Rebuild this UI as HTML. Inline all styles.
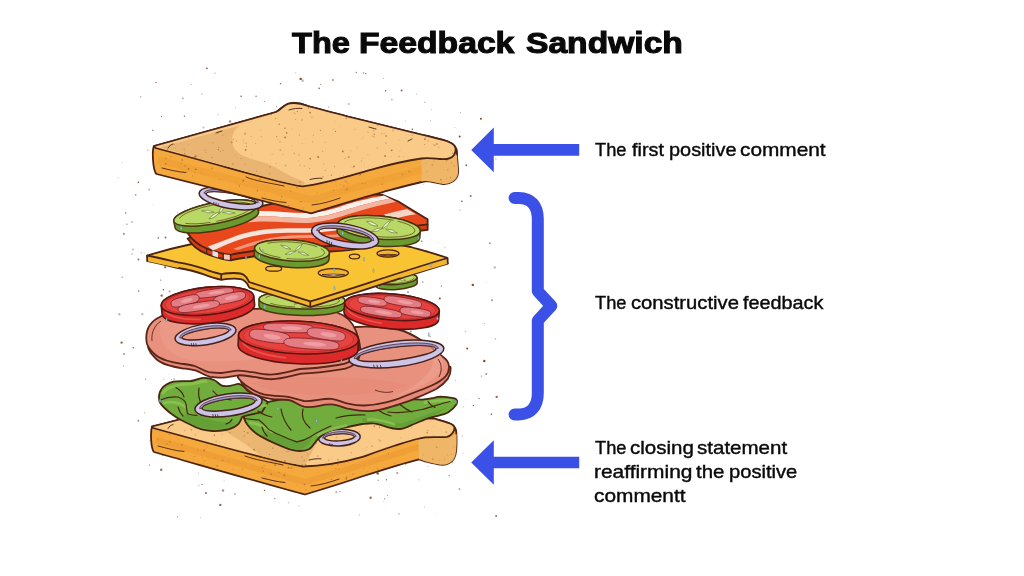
<!DOCTYPE html>
<html><head><meta charset="utf-8"><title>The Feedback Sandwich</title>
<style>
html,body{margin:0;padding:0;background:#fff;}
body{width:1024px;height:576px;overflow:hidden;position:relative;font-family:"Liberation Sans",sans-serif;color:#0a0a0a;}
svg{position:absolute;left:0;top:0;}
.w{position:absolute;white-space:nowrap;transform-origin:0 0;line-height:40px;filter:grayscale(1);}
.ti{font-size:30px;font-weight:bold;-webkit-text-stroke:1.1px #0a0a0a;}
.la{font-size:18.4px;-webkit-text-stroke:0.4px #0a0a0a;}
</style></head><body>
<svg width="1024" height="576" viewBox="0 0 1024 576">
<circle cx="289.5" cy="319.9" r="1.2" fill="#7c4a2c" opacity="1.0"/><circle cx="289.2" cy="452.8" r="0.55" fill="#7c4a2c" opacity="0.6"/><circle cx="422.7" cy="282.1" r="0.8" fill="#7c4a2c" opacity="0.6"/><circle cx="153.7" cy="204.5" r="0.45" fill="#7c4a2c" opacity="0.4"/><circle cx="343.7" cy="246.3" r="0.7" fill="#7c4a2c" opacity="0.6"/><circle cx="354.2" cy="442.3" r="0.45" fill="#7c4a2c" opacity="0.4"/><circle cx="412.9" cy="214.8" r="0.8" fill="#7c4a2c" opacity="0.6"/><circle cx="314.7" cy="356.1" r="0.7" fill="#7c4a2c" opacity="0.4"/><circle cx="369.1" cy="273.8" r="0.6" fill="#7c4a2c" opacity="1.0"/><circle cx="496.1" cy="516.1" r="1.0" fill="#7c4a2c" opacity="0.8"/><circle cx="237.5" cy="171.3" r="0.6" fill="#7c4a2c" opacity="0.4"/><circle cx="144.6" cy="412.8" r="0.7" fill="#7c4a2c" opacity="0.4"/><circle cx="438.9" cy="241.9" r="0.45" fill="#7c4a2c" opacity="0.4"/><circle cx="198.9" cy="485.2" r="0.45" fill="#7c4a2c" opacity="1.0"/><circle cx="260.3" cy="387.0" r="0.7" fill="#7c4a2c" opacity="0.4"/><circle cx="332.6" cy="157.3" r="1.0" fill="#7c4a2c" opacity="0.8"/><circle cx="245.7" cy="208.0" r="0.45" fill="#7c4a2c" opacity="1.0"/><circle cx="405.3" cy="121.1" r="0.55" fill="#7c4a2c" opacity="0.4"/><circle cx="122.2" cy="277.2" r="0.7" fill="#7c4a2c" opacity="0.6"/><circle cx="376.5" cy="152.8" r="0.8" fill="#7c4a2c" opacity="0.6"/><circle cx="491.4" cy="414.3" r="0.7" fill="#7c4a2c" opacity="1.0"/><circle cx="162.2" cy="257.3" r="0.55" fill="#7c4a2c" opacity="0.4"/><circle cx="220.3" cy="504.9" r="1.2" fill="#7c4a2c" opacity="0.8"/><circle cx="495.4" cy="338.9" r="0.8" fill="#7c4a2c" opacity="0.4"/><circle cx="121.6" cy="342.6" r="1.2" fill="#7c4a2c" opacity="0.8"/><circle cx="264.4" cy="101.4" r="0.55" fill="#7c4a2c" opacity="0.6"/><circle cx="123.9" cy="233.9" r="0.8" fill="#7c4a2c" opacity="1.0"/><circle cx="166.2" cy="332.3" r="1.2" fill="#7c4a2c" opacity="0.6"/><circle cx="446.4" cy="150.3" r="0.55" fill="#7c4a2c" opacity="0.8"/><circle cx="462.3" cy="436.0" r="0.55" fill="#7c4a2c" opacity="0.6"/><circle cx="178.1" cy="351.0" r="0.8" fill="#7c4a2c" opacity="0.6"/><circle cx="378.4" cy="242.7" r="0.7" fill="#7c4a2c" opacity="0.4"/><circle cx="277.7" cy="114.7" r="0.45" fill="#7c4a2c" opacity="0.8"/><circle cx="208.4" cy="385.1" r="0.6" fill="#7c4a2c" opacity="1.0"/><circle cx="430.2" cy="336.4" r="0.6" fill="#7c4a2c" opacity="0.6"/><circle cx="299.7" cy="362.1" r="0.8" fill="#7c4a2c" opacity="0.4"/><circle cx="224.2" cy="480.8" r="0.55" fill="#7c4a2c" opacity="0.4"/><circle cx="144.2" cy="253.1" r="0.55" fill="#7c4a2c" opacity="0.4"/><circle cx="135.7" cy="194.9" r="0.8" fill="#7c4a2c" opacity="0.6"/><circle cx="152.9" cy="130.3" r="0.7" fill="#7c4a2c" opacity="0.8"/><circle cx="367.0" cy="379.0" r="0.8" fill="#7c4a2c" opacity="0.6"/><circle cx="341.6" cy="483.6" r="0.7" fill="#7c4a2c" opacity="0.8"/><circle cx="383.7" cy="501.2" r="0.45" fill="#7c4a2c" opacity="0.4"/><circle cx="300.8" cy="396.7" r="0.6" fill="#7c4a2c" opacity="0.6"/><circle cx="397.3" cy="473.1" r="1.0" fill="#7c4a2c" opacity="0.6"/><circle cx="418.6" cy="479.8" r="0.6" fill="#7c4a2c" opacity="0.4"/><circle cx="377.7" cy="473.4" r="1.2" fill="#7c4a2c" opacity="1.0"/><circle cx="123.5" cy="366.0" r="0.7" fill="#7c4a2c" opacity="0.4"/><circle cx="348.8" cy="104.1" r="1.0" fill="#7c4a2c" opacity="0.4"/><circle cx="494.5" cy="463.9" r="0.7" fill="#7c4a2c" opacity="1.0"/><circle cx="285.0" cy="445.3" r="0.45" fill="#7c4a2c" opacity="0.4"/><circle cx="235.6" cy="107.5" r="0.45" fill="#7c4a2c" opacity="0.6"/><circle cx="480.9" cy="118.8" r="1.0" fill="#7c4a2c" opacity="1.0"/><circle cx="215.0" cy="73.1" r="0.6" fill="#7c4a2c" opacity="0.6"/><circle cx="375.0" cy="159.2" r="0.55" fill="#7c4a2c" opacity="0.8"/><circle cx="368.1" cy="266.9" r="0.55" fill="#7c4a2c" opacity="0.8"/><circle cx="271.4" cy="180.8" r="1.0" fill="#7c4a2c" opacity="1.0"/><circle cx="422.6" cy="407.6" r="0.55" fill="#7c4a2c" opacity="0.6"/><circle cx="263.7" cy="330.4" r="0.6" fill="#7c4a2c" opacity="0.6"/><circle cx="169.6" cy="291.4" r="1.2" fill="#7c4a2c" opacity="0.4"/><circle cx="387.6" cy="495.5" r="0.6" fill="#7c4a2c" opacity="0.6"/><circle cx="160.8" cy="280.1" r="0.55" fill="#7c4a2c" opacity="1.0"/><circle cx="263.0" cy="302.0" r="1.0" fill="#7c4a2c" opacity="0.8"/><circle cx="389.5" cy="446.9" r="0.8" fill="#7c4a2c" opacity="1.0"/><circle cx="239.4" cy="440.9" r="0.6" fill="#7c4a2c" opacity="0.4"/><circle cx="375.1" cy="194.5" r="0.6" fill="#7c4a2c" opacity="0.8"/><circle cx="364.1" cy="321.8" r="1.0" fill="#7c4a2c" opacity="0.6"/><circle cx="271.6" cy="153.5" r="1.2" fill="#7c4a2c" opacity="0.8"/><circle cx="208.0" cy="131.4" r="0.45" fill="#7c4a2c" opacity="0.4"/><circle cx="287.2" cy="351.5" r="1.0" fill="#7c4a2c" opacity="0.8"/><circle cx="481.3" cy="376.0" r="0.55" fill="#7c4a2c" opacity="1.0"/><circle cx="215.0" cy="389.4" r="1.2" fill="#7c4a2c" opacity="1.0"/><circle cx="320.7" cy="84.3" r="0.55" fill="#7c4a2c" opacity="0.8"/><circle cx="413.1" cy="310.9" r="0.8" fill="#7c4a2c" opacity="0.6"/><circle cx="267.1" cy="424.4" r="0.55" fill="#7c4a2c" opacity="0.4"/><circle cx="273.6" cy="469.7" r="0.7" fill="#7c4a2c" opacity="0.6"/><circle cx="288.7" cy="156.6" r="0.45" fill="#7c4a2c" opacity="1.0"/><circle cx="326.5" cy="361.7" r="0.8" fill="#7c4a2c" opacity="0.8"/><circle cx="293.7" cy="361.1" r="0.55" fill="#7c4a2c" opacity="0.4"/><circle cx="391.6" cy="436.3" r="1.0" fill="#7c4a2c" opacity="0.4"/><circle cx="198.8" cy="473.0" r="0.45" fill="#7c4a2c" opacity="0.8"/><circle cx="321.5" cy="423.9" r="0.6" fill="#7c4a2c" opacity="0.8"/><circle cx="462.9" cy="453.1" r="0.6" fill="#7c4a2c" opacity="0.4"/><circle cx="132.1" cy="221.9" r="0.7" fill="#7c4a2c" opacity="0.8"/><circle cx="302.7" cy="80.8" r="1.2" fill="#7c4a2c" opacity="0.4"/><circle cx="280.6" cy="83.8" r="0.8" fill="#7c4a2c" opacity="0.8"/><circle cx="378.2" cy="480.2" r="0.7" fill="#7c4a2c" opacity="0.6"/><circle cx="374.9" cy="266.1" r="0.7" fill="#7c4a2c" opacity="0.4"/><circle cx="405.2" cy="265.7" r="0.8" fill="#7c4a2c" opacity="0.8"/><circle cx="433.0" cy="320.7" r="0.55" fill="#7c4a2c" opacity="0.8"/><circle cx="236.1" cy="239.5" r="1.2" fill="#7c4a2c" opacity="0.6"/><circle cx="233.4" cy="131.5" r="0.8" fill="#7c4a2c" opacity="0.8"/><circle cx="335.2" cy="158.4" r="0.8" fill="#7c4a2c" opacity="0.4"/><circle cx="308.7" cy="340.4" r="0.45" fill="#7c4a2c" opacity="0.4"/><circle cx="313.6" cy="248.3" r="1.2" fill="#7c4a2c" opacity="0.4"/><circle cx="304.1" cy="378.9" r="0.45" fill="#7c4a2c" opacity="1.0"/><circle cx="274.8" cy="498.6" r="0.7" fill="#7c4a2c" opacity="0.8"/><circle cx="211.3" cy="289.9" r="0.6" fill="#7c4a2c" opacity="1.0"/><circle cx="459.4" cy="489.1" r="0.8" fill="#7c4a2c" opacity="0.8"/><circle cx="159.2" cy="256.8" r="0.45" fill="#7c4a2c" opacity="0.8"/><circle cx="167.1" cy="418.7" r="0.45" fill="#7c4a2c" opacity="0.4"/><circle cx="191.6" cy="170.3" r="1.0" fill="#7c4a2c" opacity="0.8"/><circle cx="240.1" cy="227.9" r="0.8" fill="#7c4a2c" opacity="1.0"/><circle cx="157.8" cy="396.9" r="0.45" fill="#7c4a2c" opacity="0.8"/><circle cx="390.0" cy="383.6" r="0.7" fill="#7c4a2c" opacity="0.4"/><circle cx="260.4" cy="254.0" r="0.8" fill="#7c4a2c" opacity="0.6"/><circle cx="322.0" cy="456.7" r="0.8" fill="#7c4a2c" opacity="0.6"/><circle cx="318.7" cy="451.1" r="0.8" fill="#7c4a2c" opacity="0.6"/><circle cx="206.2" cy="401.3" r="1.2" fill="#7c4a2c" opacity="0.8"/><circle cx="460.1" cy="210.1" r="0.6" fill="#7c4a2c" opacity="0.6"/><circle cx="200.7" cy="517.3" r="0.45" fill="#7c4a2c" opacity="0.6"/><circle cx="454.9" cy="127.6" r="0.45" fill="#7c4a2c" opacity="0.8"/><circle cx="265.0" cy="263.7" r="0.7" fill="#7c4a2c" opacity="0.6"/><circle cx="194.0" cy="350.6" r="1.2" fill="#7c4a2c" opacity="0.4"/><circle cx="154.4" cy="324.5" r="0.6" fill="#7c4a2c" opacity="0.8"/><circle cx="161.7" cy="295.6" r="1.2" fill="#7c4a2c" opacity="0.8"/><circle cx="308.6" cy="376.6" r="0.55" fill="#7c4a2c" opacity="0.4"/><circle cx="300.7" cy="78.9" r="1.2" fill="#7c4a2c" opacity="1.0"/><circle cx="173.5" cy="151.0" r="0.55" fill="#7c4a2c" opacity="0.6"/><circle cx="436.4" cy="513.6" r="0.45" fill="#7c4a2c" opacity="0.4"/><circle cx="169.0" cy="374.4" r="0.45" fill="#7c4a2c" opacity="0.4"/><circle cx="241.9" cy="278.1" r="0.8" fill="#7c4a2c" opacity="0.8"/><circle cx="281.0" cy="338.4" r="0.45" fill="#7c4a2c" opacity="0.4"/><circle cx="438.0" cy="149.6" r="0.7" fill="#7c4a2c" opacity="0.8"/><circle cx="398.2" cy="250.4" r="0.55" fill="#7c4a2c" opacity="0.6"/><circle cx="153.9" cy="424.6" r="0.6" fill="#7c4a2c" opacity="0.4"/><circle cx="421.8" cy="385.1" r="1.2" fill="#7c4a2c" opacity="1.0"/><circle cx="333.9" cy="153.9" r="0.8" fill="#7c4a2c" opacity="0.8"/><circle cx="423.0" cy="184.2" r="0.45" fill="#7c4a2c" opacity="0.6"/><circle cx="426.7" cy="250.5" r="0.6" fill="#7c4a2c" opacity="0.8"/><circle cx="408.8" cy="412.4" r="0.7" fill="#7c4a2c" opacity="0.6"/><circle cx="391.9" cy="99.7" r="0.6" fill="#7c4a2c" opacity="0.8"/><circle cx="295.7" cy="72.8" r="0.6" fill="#7c4a2c" opacity="0.4"/><circle cx="206.0" cy="493.1" r="1.0" fill="#7c4a2c" opacity="0.8"/><circle cx="246.0" cy="364.9" r="0.8" fill="#7c4a2c" opacity="0.6"/><circle cx="320.0" cy="243.3" r="0.7" fill="#7c4a2c" opacity="0.6"/><circle cx="383.8" cy="410.8" r="0.8" fill="#7c4a2c" opacity="0.4"/><circle cx="161.5" cy="116.6" r="0.55" fill="#7c4a2c" opacity="0.8"/><circle cx="286.1" cy="295.1" r="1.2" fill="#7c4a2c" opacity="0.6"/><circle cx="363.6" cy="72.9" r="0.6" fill="#7c4a2c" opacity="0.8"/><circle cx="222.5" cy="221.4" r="0.8" fill="#7c4a2c" opacity="1.0"/><circle cx="484.5" cy="323.6" r="0.45" fill="#7c4a2c" opacity="1.0"/><circle cx="424.8" cy="102.3" r="0.8" fill="#7c4a2c" opacity="0.4"/><circle cx="264.5" cy="490.4" r="0.7" fill="#7c4a2c" opacity="1.0"/><circle cx="344.1" cy="261.3" r="0.7" fill="#7c4a2c" opacity="1.0"/><circle cx="225.8" cy="247.4" r="0.6" fill="#7c4a2c" opacity="0.8"/><circle cx="319.0" cy="285.5" r="0.6" fill="#7c4a2c" opacity="0.8"/><circle cx="369.5" cy="404.5" r="0.45" fill="#7c4a2c" opacity="0.4"/><circle cx="410.8" cy="331.6" r="1.0" fill="#7c4a2c" opacity="0.6"/><circle cx="272.9" cy="375.9" r="0.45" fill="#7c4a2c" opacity="0.8"/><circle cx="401.6" cy="90.6" r="1.0" fill="#7c4a2c" opacity="0.8"/><circle cx="299.0" cy="505.9" r="0.55" fill="#7c4a2c" opacity="0.4"/><circle cx="316.4" cy="489.8" r="1.0" fill="#7c4a2c" opacity="1.0"/><circle cx="385.7" cy="90.7" r="0.7" fill="#7c4a2c" opacity="1.0"/><circle cx="162.7" cy="455.5" r="0.6" fill="#7c4a2c" opacity="0.6"/><circle cx="165.1" cy="267.3" r="1.0" fill="#7c4a2c" opacity="1.0"/><circle cx="290.7" cy="186.0" r="0.8" fill="#7c4a2c" opacity="1.0"/><circle cx="256.0" cy="402.7" r="1.2" fill="#7c4a2c" opacity="0.6"/><circle cx="479.0" cy="398.4" r="0.55" fill="#7c4a2c" opacity="1.0"/><circle cx="161.2" cy="469.7" r="1.2" fill="#7c4a2c" opacity="0.8"/><circle cx="222.1" cy="342.4" r="1.0" fill="#7c4a2c" opacity="0.6"/><circle cx="357.9" cy="407.0" r="0.55" fill="#7c4a2c" opacity="0.6"/><circle cx="308.3" cy="361.8" r="0.55" fill="#7c4a2c" opacity="0.4"/><circle cx="356.2" cy="72.3" r="0.6" fill="#7c4a2c" opacity="1.0"/><circle cx="223.5" cy="408.1" r="1.0" fill="#7c4a2c" opacity="0.6"/><circle cx="326.7" cy="352.0" r="0.6" fill="#7c4a2c" opacity="1.0"/><circle cx="299.4" cy="162.8" r="0.6" fill="#7c4a2c" opacity="1.0"/><circle cx="400.3" cy="445.3" r="0.45" fill="#7c4a2c" opacity="0.4"/><circle cx="287.5" cy="437.9" r="1.2" fill="#7c4a2c" opacity="0.6"/><circle cx="286.4" cy="404.3" r="0.7" fill="#7c4a2c" opacity="0.6"/><circle cx="257.8" cy="362.1" r="0.8" fill="#7c4a2c" opacity="0.8"/><circle cx="228.2" cy="409.5" r="1.2" fill="#7c4a2c" opacity="0.6"/><circle cx="280.1" cy="234.2" r="0.45" fill="#7c4a2c" opacity="1.0"/><circle cx="331.8" cy="286.2" r="1.0" fill="#7c4a2c" opacity="1.0"/><circle cx="231.3" cy="417.0" r="0.45" fill="#7c4a2c" opacity="0.8"/><circle cx="198.8" cy="365.9" r="0.45" fill="#7c4a2c" opacity="0.8"/><circle cx="305.5" cy="411.9" r="0.6" fill="#7c4a2c" opacity="0.8"/><circle cx="452.2" cy="166.4" r="1.0" fill="#7c4a2c" opacity="0.8"/><circle cx="256.9" cy="120.8" r="1.0" fill="#7c4a2c" opacity="1.0"/><circle cx="333.8" cy="481.4" r="1.0" fill="#7c4a2c" opacity="0.8"/><circle cx="284.0" cy="429.4" r="0.6" fill="#7c4a2c" opacity="1.0"/><circle cx="238.4" cy="247.8" r="1.0" fill="#7c4a2c" opacity="0.6"/><circle cx="149.9" cy="440.8" r="0.45" fill="#7c4a2c" opacity="0.8"/><circle cx="374.6" cy="331.2" r="1.2" fill="#7c4a2c" opacity="0.6"/><circle cx="398.0" cy="233.7" r="0.7" fill="#7c4a2c" opacity="0.6"/><circle cx="435.0" cy="321.3" r="0.55" fill="#7c4a2c" opacity="0.4"/><circle cx="405.6" cy="464.4" r="0.6" fill="#7c4a2c" opacity="0.4"/><circle cx="201.9" cy="94.0" r="0.55" fill="#7c4a2c" opacity="0.8"/><circle cx="484.3" cy="361.0" r="1.2" fill="#7c4a2c" opacity="1.0"/><circle cx="142.3" cy="314.1" r="1.2" fill="#7c4a2c" opacity="0.4"/><circle cx="244.8" cy="191.1" r="0.45" fill="#7c4a2c" opacity="0.8"/><circle cx="150.1" cy="353.4" r="0.55" fill="#7c4a2c" opacity="0.4"/><circle cx="400.7" cy="360.1" r="0.55" fill="#7c4a2c" opacity="0.6"/><circle cx="303.3" cy="476.5" r="0.6" fill="#7c4a2c" opacity="1.0"/><circle cx="267.5" cy="220.0" r="0.6" fill="#7c4a2c" opacity="0.6"/><circle cx="305.1" cy="309.8" r="1.0" fill="#7c4a2c" opacity="0.4"/><circle cx="386.4" cy="479.7" r="0.7" fill="#7c4a2c" opacity="0.8"/><circle cx="441.5" cy="430.7" r="1.2" fill="#7c4a2c" opacity="0.4"/><circle cx="316.5" cy="387.5" r="1.2" fill="#7c4a2c" opacity="0.4"/><circle cx="277.8" cy="257.2" r="0.55" fill="#7c4a2c" opacity="0.6"/><circle cx="398.9" cy="514.0" r="0.7" fill="#7c4a2c" opacity="0.6"/><circle cx="239.6" cy="243.2" r="0.8" fill="#7c4a2c" opacity="0.8"/><circle cx="221.9" cy="466.7" r="0.7" fill="#7c4a2c" opacity="0.8"/><circle cx="395.0" cy="204.6" r="0.55" fill="#7c4a2c" opacity="0.6"/><circle cx="463.7" cy="406.9" r="0.45" fill="#7c4a2c" opacity="1.0"/><circle cx="187.9" cy="165.8" r="0.55" fill="#7c4a2c" opacity="1.0"/><circle cx="343.4" cy="168.8" r="0.55" fill="#7c4a2c" opacity="0.8"/><circle cx="270.5" cy="477.8" r="0.6" fill="#7c4a2c" opacity="1.0"/><circle cx="441.4" cy="286.1" r="0.7" fill="#7c4a2c" opacity="0.8"/><circle cx="368.2" cy="415.3" r="0.45" fill="#7c4a2c" opacity="1.0"/><circle cx="444.9" cy="247.7" r="0.55" fill="#7c4a2c" opacity="0.6"/><circle cx="421.7" cy="241.2" r="0.8" fill="#7c4a2c" opacity="0.8"/><circle cx="416.5" cy="94.1" r="0.55" fill="#7c4a2c" opacity="0.4"/><circle cx="449.3" cy="475.4" r="0.7" fill="#7c4a2c" opacity="0.6"/><circle cx="388.3" cy="340.7" r="0.55" fill="#7c4a2c" opacity="1.0"/><circle cx="177.5" cy="212.8" r="0.6" fill="#7c4a2c" opacity="0.6"/><circle cx="359.4" cy="514.9" r="0.6" fill="#7c4a2c" opacity="0.4"/><circle cx="175.1" cy="414.7" r="0.45" fill="#7c4a2c" opacity="0.6"/><circle cx="429.3" cy="448.8" r="1.2" fill="#7c4a2c" opacity="0.6"/><circle cx="149.2" cy="189.5" r="1.0" fill="#7c4a2c" opacity="0.4"/><circle cx="455.2" cy="380.2" r="0.45" fill="#7c4a2c" opacity="0.8"/><circle cx="376.6" cy="419.6" r="0.7" fill="#7c4a2c" opacity="0.6"/><circle cx="132.1" cy="253.9" r="0.7" fill="#7c4a2c" opacity="0.6"/><circle cx="271.7" cy="318.4" r="0.7" fill="#7c4a2c" opacity="0.4"/><circle cx="254.3" cy="377.2" r="0.45" fill="#7c4a2c" opacity="1.0"/><circle cx="374.2" cy="404.0" r="1.2" fill="#7c4a2c" opacity="0.4"/><circle cx="365.8" cy="73.6" r="0.7" fill="#7c4a2c" opacity="1.0"/><circle cx="208.0" cy="321.9" r="0.7" fill="#7c4a2c" opacity="0.4"/><circle cx="442.4" cy="448.0" r="1.0" fill="#7c4a2c" opacity="0.6"/><circle cx="459.7" cy="136.5" r="1.0" fill="#7c4a2c" opacity="1.0"/><circle cx="473.3" cy="405.4" r="0.6" fill="#7c4a2c" opacity="1.0"/><circle cx="328.6" cy="107.1" r="0.55" fill="#7c4a2c" opacity="0.6"/><circle cx="260.7" cy="117.3" r="0.6" fill="#7c4a2c" opacity="0.8"/><circle cx="331.3" cy="393.7" r="0.6" fill="#7c4a2c" opacity="1.0"/><circle cx="431.4" cy="109.5" r="0.55" fill="#7c4a2c" opacity="0.4"/><circle cx="167.8" cy="351.7" r="0.55" fill="#7c4a2c" opacity="0.6"/><circle cx="191.2" cy="84.4" r="0.7" fill="#7c4a2c" opacity="0.4"/><circle cx="156.1" cy="82.6" r="0.7" fill="#7c4a2c" opacity="1.0"/><circle cx="410.3" cy="221.7" r="1.2" fill="#7c4a2c" opacity="1.0"/><circle cx="174.1" cy="379.1" r="0.7" fill="#7c4a2c" opacity="0.8"/><circle cx="467.2" cy="348.4" r="1.0" fill="#7c4a2c" opacity="1.0"/><circle cx="350.4" cy="211.0" r="1.2" fill="#7c4a2c" opacity="0.6"/><circle cx="368.2" cy="341.9" r="0.45" fill="#7c4a2c" opacity="0.8"/><circle cx="243.5" cy="222.0" r="1.0" fill="#7c4a2c" opacity="1.0"/><circle cx="158.3" cy="237.9" r="0.8" fill="#7c4a2c" opacity="0.8"/><circle cx="416.9" cy="439.3" r="0.8" fill="#7c4a2c" opacity="0.6"/><circle cx="214.2" cy="310.5" r="0.6" fill="#7c4a2c" opacity="0.6"/><circle cx="251.6" cy="293.2" r="0.55" fill="#7c4a2c" opacity="0.6"/><circle cx="492.0" cy="300.2" r="1.0" fill="#7c4a2c" opacity="0.6"/><circle cx="333.0" cy="80.0" r="1.0" fill="#7c4a2c" opacity="0.6"/><circle cx="412.3" cy="129.3" r="0.7" fill="#7c4a2c" opacity="1.0"/><circle cx="382.2" cy="216.1" r="1.2" fill="#7c4a2c" opacity="0.8"/><circle cx="218.9" cy="465.3" r="0.7" fill="#7c4a2c" opacity="0.6"/><circle cx="208.4" cy="324.2" r="0.8" fill="#7c4a2c" opacity="0.4"/><circle cx="330.4" cy="187.0" r="1.0" fill="#7c4a2c" opacity="0.8"/><circle cx="346.0" cy="123.2" r="1.2" fill="#7c4a2c" opacity="0.4"/><circle cx="227.4" cy="471.7" r="0.55" fill="#7c4a2c" opacity="0.8"/><circle cx="432.9" cy="151.5" r="0.8" fill="#7c4a2c" opacity="0.4"/><circle cx="290.2" cy="249.5" r="1.2" fill="#7c4a2c" opacity="0.6"/><circle cx="234.6" cy="370.1" r="1.0" fill="#7c4a2c" opacity="1.0"/><circle cx="351.2" cy="356.1" r="1.2" fill="#7c4a2c" opacity="0.4"/><circle cx="178.1" cy="253.4" r="0.45" fill="#7c4a2c" opacity="0.6"/><circle cx="318.1" cy="121.2" r="0.7" fill="#7c4a2c" opacity="0.6"/><circle cx="245.4" cy="127.2" r="0.55" fill="#7c4a2c" opacity="0.8"/><circle cx="138.3" cy="420.8" r="1.0" fill="#7c4a2c" opacity="0.6"/><circle cx="270.8" cy="291.9" r="0.45" fill="#7c4a2c" opacity="1.0"/><circle cx="248.9" cy="471.5" r="1.0" fill="#7c4a2c" opacity="1.0"/><circle cx="402.9" cy="286.6" r="0.7" fill="#7c4a2c" opacity="1.0"/><circle cx="430.7" cy="120.8" r="0.45" fill="#7c4a2c" opacity="0.8"/><circle cx="317.0" cy="262.5" r="0.45" fill="#7c4a2c" opacity="0.8"/><circle cx="461.9" cy="201.2" r="0.8" fill="#7c4a2c" opacity="1.0"/><circle cx="395.4" cy="336.9" r="1.2" fill="#7c4a2c" opacity="0.8"/><circle cx="452.5" cy="462.7" r="0.55" fill="#7c4a2c" opacity="0.4"/><circle cx="438.0" cy="177.1" r="1.2" fill="#7c4a2c" opacity="1.0"/><circle cx="486.6" cy="282.1" r="0.45" fill="#7c4a2c" opacity="0.6"/><circle cx="324.5" cy="363.6" r="0.55" fill="#7c4a2c" opacity="0.4"/><circle cx="496.7" cy="396.9" r="1.2" fill="#7c4a2c" opacity="0.8"/><circle cx="446.4" cy="257.6" r="1.2" fill="#7c4a2c" opacity="0.6"/><circle cx="202.1" cy="404.0" r="0.8" fill="#7c4a2c" opacity="0.4"/><circle cx="460.4" cy="112.4" r="0.45" fill="#7c4a2c" opacity="1.0"/><circle cx="118.2" cy="177.8" r="0.6" fill="#7c4a2c" opacity="0.4"/><circle cx="241.1" cy="96.2" r="0.7" fill="#7c4a2c" opacity="1.0"/><circle cx="171.5" cy="379.5" r="0.55" fill="#7c4a2c" opacity="0.4"/><circle cx="234.1" cy="272.7" r="0.6" fill="#7c4a2c" opacity="0.8"/><circle cx="240.9" cy="132.5" r="1.2" fill="#7c4a2c" opacity="1.0"/><circle cx="451.0" cy="159.2" r="1.2" fill="#7c4a2c" opacity="0.4"/><circle cx="192.1" cy="445.1" r="0.6" fill="#7c4a2c" opacity="1.0"/><circle cx="124.1" cy="353.9" r="1.0" fill="#7c4a2c" opacity="0.6"/><circle cx="320.0" cy="174.3" r="0.45" fill="#7c4a2c" opacity="0.4"/><circle cx="234.0" cy="436.0" r="0.6" fill="#7c4a2c" opacity="1.0"/><circle cx="388.3" cy="128.7" r="1.0" fill="#7c4a2c" opacity="1.0"/><circle cx="275.3" cy="144.2" r="1.2" fill="#7c4a2c" opacity="0.8"/><circle cx="163.7" cy="379.0" r="0.6" fill="#7c4a2c" opacity="0.6"/><circle cx="390.9" cy="293.6" r="0.6" fill="#7c4a2c" opacity="0.8"/><circle cx="259.2" cy="365.9" r="0.45" fill="#7c4a2c" opacity="0.6"/><circle cx="203.6" cy="127.6" r="1.0" fill="#7c4a2c" opacity="0.4"/><circle cx="293.4" cy="102.3" r="0.8" fill="#7c4a2c" opacity="0.4"/><circle cx="319.2" cy="88.4" r="0.8" fill="#7c4a2c" opacity="0.8"/><circle cx="321.6" cy="258.6" r="0.8" fill="#7c4a2c" opacity="0.4"/><circle cx="186.0" cy="398.4" r="0.45" fill="#7c4a2c" opacity="0.6"/><circle cx="417.5" cy="135.8" r="0.45" fill="#7c4a2c" opacity="1.0"/><circle cx="465.3" cy="331.2" r="0.45" fill="#7c4a2c" opacity="1.0"/><circle cx="140.8" cy="96.8" r="0.6" fill="#7c4a2c" opacity="0.8"/><circle cx="367.5" cy="420.3" r="0.8" fill="#7c4a2c" opacity="0.8"/><circle cx="309.6" cy="448.4" r="1.0" fill="#7c4a2c" opacity="0.6"/><circle cx="343.1" cy="415.1" r="0.45" fill="#7c4a2c" opacity="1.0"/><circle cx="207.2" cy="266.2" r="1.2" fill="#7c4a2c" opacity="0.8"/><circle cx="416.1" cy="424.0" r="0.55" fill="#7c4a2c" opacity="0.8"/><circle cx="303.4" cy="167.6" r="0.8" fill="#7c4a2c" opacity="1.0"/><circle cx="217.0" cy="159.1" r="1.0" fill="#7c4a2c" opacity="0.4"/><circle cx="335.0" cy="460.8" r="0.55" fill="#7c4a2c" opacity="0.8"/><circle cx="282.7" cy="266.8" r="0.6" fill="#7c4a2c" opacity="0.4"/><circle cx="323.9" cy="424.2" r="0.55" fill="#7c4a2c" opacity="0.6"/><circle cx="138.5" cy="259.4" r="1.0" fill="#7c4a2c" opacity="0.8"/><circle cx="428.6" cy="400.3" r="1.2" fill="#7c4a2c" opacity="0.8"/><circle cx="408.0" cy="292.3" r="1.0" fill="#7c4a2c" opacity="0.6"/><circle cx="261.6" cy="179.7" r="0.7" fill="#7c4a2c" opacity="1.0"/><circle cx="141.2" cy="252.8" r="0.6" fill="#7c4a2c" opacity="0.6"/><circle cx="384.7" cy="498.7" r="0.55" fill="#7c4a2c" opacity="1.0"/><circle cx="404.3" cy="338.3" r="0.55" fill="#7c4a2c" opacity="0.6"/><circle cx="400.2" cy="302.8" r="0.45" fill="#7c4a2c" opacity="0.4"/><circle cx="209.2" cy="468.5" r="0.55" fill="#7c4a2c" opacity="0.4"/><circle cx="266.9" cy="202.1" r="0.7" fill="#7c4a2c" opacity="0.4"/><circle cx="486.3" cy="373.9" r="1.0" fill="#7c4a2c" opacity="0.6"/><circle cx="230.1" cy="121.5" r="1.2" fill="#7c4a2c" opacity="0.6"/><circle cx="276.6" cy="106.7" r="0.55" fill="#7c4a2c" opacity="0.8"/><circle cx="235.0" cy="493.9" r="0.8" fill="#7c4a2c" opacity="0.6"/><circle cx="133.0" cy="249.4" r="1.0" fill="#7c4a2c" opacity="0.4"/><circle cx="397.5" cy="323.3" r="1.2" fill="#7c4a2c" opacity="0.6"/><circle cx="293.3" cy="244.8" r="1.2" fill="#7c4a2c" opacity="0.6"/><circle cx="262.4" cy="419.6" r="0.55" fill="#7c4a2c" opacity="1.0"/><circle cx="249.7" cy="150.6" r="0.8" fill="#7c4a2c" opacity="0.6"/><circle cx="300.0" cy="248.1" r="0.8" fill="#7c4a2c" opacity="1.0"/><circle cx="405.9" cy="280.7" r="0.7" fill="#7c4a2c" opacity="0.6"/><circle cx="445.0" cy="160.1" r="0.7" fill="#7c4a2c" opacity="1.0"/><circle cx="145.6" cy="379.1" r="0.6" fill="#7c4a2c" opacity="0.8"/><circle cx="353.3" cy="301.5" r="1.0" fill="#7c4a2c" opacity="0.8"/><circle cx="312.1" cy="323.3" r="1.0" fill="#7c4a2c" opacity="0.6"/><circle cx="219.8" cy="230.5" r="0.55" fill="#7c4a2c" opacity="0.8"/><circle cx="170.0" cy="176.4" r="1.2" fill="#7c4a2c" opacity="0.4"/><circle cx="125.7" cy="212.9" r="0.7" fill="#7c4a2c" opacity="1.0"/><circle cx="149.5" cy="465.1" r="0.6" fill="#7c4a2c" opacity="0.8"/><circle cx="410.1" cy="301.7" r="0.45" fill="#7c4a2c" opacity="0.8"/><circle cx="267.3" cy="175.2" r="0.45" fill="#7c4a2c" opacity="0.6"/><circle cx="175.2" cy="335.9" r="0.45" fill="#7c4a2c" opacity="0.6"/><circle cx="236.4" cy="258.8" r="0.8" fill="#7c4a2c" opacity="0.6"/><circle cx="313.9" cy="314.7" r="0.6" fill="#7c4a2c" opacity="1.0"/><circle cx="370.5" cy="134.2" r="0.55" fill="#7c4a2c" opacity="0.8"/><circle cx="320.8" cy="270.2" r="0.55" fill="#7c4a2c" opacity="1.0"/><circle cx="313.9" cy="228.0" r="0.45" fill="#7c4a2c" opacity="0.8"/><circle cx="258.4" cy="343.1" r="0.55" fill="#7c4a2c" opacity="0.4"/><circle cx="439.5" cy="404.2" r="0.7" fill="#7c4a2c" opacity="0.4"/><circle cx="424.5" cy="507.0" r="0.6" fill="#7c4a2c" opacity="0.4"/><circle cx="466.3" cy="165.3" r="1.0" fill="#7c4a2c" opacity="0.8"/><circle cx="370.6" cy="497.8" r="1.2" fill="#7c4a2c" opacity="0.8"/><circle cx="206.9" cy="352.6" r="0.45" fill="#7c4a2c" opacity="1.0"/><circle cx="163.4" cy="289.8" r="0.7" fill="#7c4a2c" opacity="1.0"/><circle cx="470.7" cy="196.1" r="1.0" fill="#7c4a2c" opacity="0.8"/><circle cx="202.0" cy="484.5" r="0.55" fill="#7c4a2c" opacity="1.0"/><circle cx="409.2" cy="225.8" r="1.0" fill="#7c4a2c" opacity="0.6"/><circle cx="315.2" cy="402.2" r="0.7" fill="#7c4a2c" opacity="0.6"/><circle cx="299.3" cy="183.7" r="1.2" fill="#7c4a2c" opacity="0.8"/><circle cx="383.4" cy="78.4" r="0.7" fill="#7c4a2c" opacity="0.4"/><circle cx="256.1" cy="96.3" r="0.7" fill="#7c4a2c" opacity="0.8"/><circle cx="138.7" cy="291.0" r="0.8" fill="#7c4a2c" opacity="0.8"/><circle cx="295.7" cy="214.5" r="0.6" fill="#7c4a2c" opacity="0.4"/><circle cx="126.9" cy="224.2" r="0.6" fill="#7c4a2c" opacity="0.8"/><circle cx="217.3" cy="368.6" r="0.55" fill="#7c4a2c" opacity="1.0"/><circle cx="263.7" cy="221.6" r="0.6" fill="#7c4a2c" opacity="0.4"/><circle cx="336.4" cy="492.1" r="1.2" fill="#7c4a2c" opacity="0.4"/><circle cx="355.8" cy="347.4" r="0.7" fill="#7c4a2c" opacity="1.0"/><circle cx="288.4" cy="502.8" r="0.7" fill="#7c4a2c" opacity="0.4"/><circle cx="422.7" cy="375.5" r="0.6" fill="#7c4a2c" opacity="0.8"/><circle cx="305.6" cy="280.9" r="0.45" fill="#7c4a2c" opacity="0.6"/><circle cx="347.5" cy="189.4" r="0.6" fill="#7c4a2c" opacity="0.6"/><circle cx="206.9" cy="68.4" r="0.8" fill="#7c4a2c" opacity="1.0"/><circle cx="119.3" cy="314.2" r="1.2" fill="#7c4a2c" opacity="0.4"/><circle cx="354.6" cy="320.3" r="1.2" fill="#7c4a2c" opacity="0.8"/><circle cx="218.1" cy="114.8" r="0.45" fill="#7c4a2c" opacity="0.8"/><circle cx="423.3" cy="161.6" r="0.7" fill="#7c4a2c" opacity="0.6"/><circle cx="353.6" cy="288.8" r="0.8" fill="#7c4a2c" opacity="0.8"/><circle cx="258.0" cy="196.6" r="1.0" fill="#7c4a2c" opacity="1.0"/><circle cx="207.8" cy="180.2" r="0.6" fill="#7c4a2c" opacity="0.6"/><circle cx="465.7" cy="399.9" r="0.45" fill="#7c4a2c" opacity="0.4"/><circle cx="428.0" cy="466.5" r="0.6" fill="#7c4a2c" opacity="0.4"/><circle cx="439.8" cy="298.6" r="1.0" fill="#7c4a2c" opacity="1.0"/><circle cx="133.3" cy="347.7" r="0.7" fill="#7c4a2c" opacity="1.0"/><circle cx="138.3" cy="182.3" r="0.8" fill="#7c4a2c" opacity="1.0"/><circle cx="213.9" cy="353.6" r="0.6" fill="#7c4a2c" opacity="0.8"/><circle cx="187.6" cy="453.2" r="0.55" fill="#7c4a2c" opacity="0.6"/><circle cx="333.1" cy="257.3" r="1.0" fill="#7c4a2c" opacity="0.6"/><circle cx="354.1" cy="442.0" r="1.2" fill="#7c4a2c" opacity="0.6"/><circle cx="165.5" cy="237.6" r="1.0" fill="#7c4a2c" opacity="0.8"/><circle cx="205.6" cy="151.1" r="0.45" fill="#7c4a2c" opacity="1.0"/><circle cx="339.9" cy="491.5" r="0.55" fill="#7c4a2c" opacity="0.8"/><circle cx="378.6" cy="256.7" r="1.0" fill="#7c4a2c" opacity="1.0"/><circle cx="264.5" cy="373.7" r="0.55" fill="#7c4a2c" opacity="0.4"/><circle cx="177.6" cy="516.8" r="0.55" fill="#7c4a2c" opacity="0.8"/><circle cx="253.1" cy="310.3" r="1.2" fill="#7c4a2c" opacity="0.4"/><circle cx="271.3" cy="475.1" r="1.2" fill="#7c4a2c" opacity="1.0"/><circle cx="182.9" cy="98.3" r="0.7" fill="#7c4a2c" opacity="0.8"/><circle cx="202.8" cy="392.8" r="0.7" fill="#7c4a2c" opacity="0.6"/><circle cx="489.8" cy="243.2" r="1.0" fill="#7c4a2c" opacity="0.6"/><circle cx="324.9" cy="428.1" r="0.55" fill="#7c4a2c" opacity="1.0"/><circle cx="184.4" cy="116.2" r="0.6" fill="#7c4a2c" opacity="1.0"/><circle cx="282.0" cy="136.3" r="0.45" fill="#7c4a2c" opacity="0.8"/><circle cx="332.5" cy="132.6" r="1.0" fill="#7c4a2c" opacity="1.0"/><circle cx="221.9" cy="170.4" r="0.7" fill="#7c4a2c" opacity="0.6"/><circle cx="256.7" cy="184.8" r="0.45" fill="#7c4a2c" opacity="0.6"/><circle cx="147.7" cy="150.1" r="0.7" fill="#7c4a2c" opacity="0.6"/><circle cx="495.9" cy="159.0" r="0.7" fill="#7c4a2c" opacity="0.4"/><circle cx="275.1" cy="431.2" r="0.7" fill="#7c4a2c" opacity="0.4"/><circle cx="199.5" cy="345.5" r="1.2" fill="#7c4a2c" opacity="0.8"/><circle cx="223.0" cy="490.5" r="1.2" fill="#7c4a2c" opacity="0.6"/><circle cx="494.8" cy="267.4" r="1.2" fill="#7c4a2c" opacity="0.4"/><circle cx="403.6" cy="207.5" r="0.8" fill="#7c4a2c" opacity="1.0"/><circle cx="122.0" cy="162.6" r="0.45" fill="#7c4a2c" opacity="0.8"/><circle cx="425.0" cy="424.5" r="1.0" fill="#7c4a2c" opacity="1.0"/><circle cx="269.3" cy="429.4" r="1.2" fill="#7c4a2c" opacity="0.4"/><circle cx="472.8" cy="284.9" r="1.2" fill="#7c4a2c" opacity="1.0"/><g stroke="#4a2313" stroke-width="1.8" stroke-linejoin="round">
<path d="M152,426.5 L205,413 L434,418.5 C440,420.3 446,422 450,423.5 C454,425 456,428 456.3,432 C456.6,438 456.8,444 456.2,450 C455.8,456 454,461 449,463.3 C446,464.8 443,465 440.6,464.7 C435,464 430,462.5 425,461.3 C423,460.5 421,459.5 419,459.3 C404,463 382,470 362,476.5 C340,484 320,490 305,494.5 C280,488 200,465 154,452 C150.5,448 150.5,431 152,426.5 Z" fill="#f5a83c"/>
<path d="M418.5,439 L447,437.5 L456.5,434 C456.6,438 456.8,444 456.2,450 C455.8,456 454,461 449,463.3 C446,464.8 443,465 440.6,464.7 C435,464 430,462.5 425,461.3 C423,460.5 421,459.5 419,459.3 Z" fill="#efb668" stroke="none"/>
<path d="M152,426.5 L205,413 L434,418.5 C440,420.3 446,422 450,423.5 C454.5,425 455.5,428 453.5,431.5 C451.5,435 449,436.5 446.9,436.8 C440,437.3 432,437 425,437.3 C422,437.8 419.5,438.4 417.2,439 C409,441 401,443.8 393.75,446 C383,449.5 372,453.5 362.5,456.9 C352,460 341,462.3 331.25,463.9 C321,465.5 310,466.3 303,466.5 C285,464 220,446.5 153,428 Z" fill="#f9ca88"/>
</g>
<path d="M216,426 L245,414 L300,430 L318,440 L312,452 L305,465.5 C292,464 280,461 262,456.5 C250,447 234,436 216,426Z" fill="#e7b06c" opacity="0.8"/>
<path d="M156,440 C190,449 260,470 305,482 C340,472 390,456 418,447" fill="none" stroke="#e8952c" stroke-width="6" opacity="0.45"/>
<g fill="none" stroke="#4a2313" stroke-width="0.9" stroke-linecap="round">
<path d="M158,446 C166,448 176,451 184,451.5"/><path d="M245,456 C255,460 270,462 283,465"/><path d="M262,478 C270,480 278,482 285,482.5"/><path d="M311,486 C321,485 331,482 339,479"/>
<path d="M168,428.5 C169,426.5 171,425 173,424.5"/><path d="M309,460 C313,459 317,458.5 321,458.8"/>
</g>
<clipPath id="cpb"><path d="M152,426.5 L205,413 L434,418.5 C440,420.3 446,422 450,423.5 C454,425 456,428 456.3,432 C456.6,438 456.8,444 456.2,450 C455.8,456 454,461 449,463.3 C446,464.8 443,465 440.6,464.7 C435,464 430,462.5 425,461.3 C423,460.5 421,459.5 419,459.3 C404,463 382,470 362,476.5 C340,484 320,490 305,494.5 C280,488 200,465 154,452 C150.5,448 150.5,431 152,426.5 Z"/></clipPath><g clip-path="url(#cpb)" fill="#a8642a"><circle cx="292.6" cy="443.4" r="0.5" opacity="0.45"/><circle cx="416.9" cy="412.5" r="0.9" opacity="0.8"/><circle cx="426.7" cy="418.8" r="0.9" opacity="0.3"/><circle cx="374.3" cy="426.2" r="0.7" opacity="0.8"/><circle cx="198.4" cy="432.0" r="0.4" opacity="0.45"/><circle cx="305.9" cy="489.6" r="0.9" opacity="0.3"/><circle cx="388.5" cy="444.2" r="0.4" opacity="0.6"/><circle cx="213.1" cy="430.8" r="0.7" opacity="0.3"/><circle cx="388.0" cy="488.6" r="0.7" opacity="0.6"/><circle cx="255.2" cy="415.6" r="0.4" opacity="0.8"/><circle cx="166.9" cy="443.8" r="0.7" opacity="0.45"/><circle cx="157.2" cy="447.7" r="0.4" opacity="0.3"/><circle cx="187.3" cy="460.6" r="0.5" opacity="0.6"/><circle cx="152.5" cy="419.0" r="0.9" opacity="0.3"/><circle cx="304.2" cy="460.1" r="0.9" opacity="0.45"/><circle cx="279.4" cy="445.4" r="0.4" opacity="0.45"/><circle cx="203.1" cy="463.1" r="0.4" opacity="0.3"/><circle cx="233.2" cy="469.4" r="0.5" opacity="0.6"/><circle cx="377.0" cy="460.3" r="0.4" opacity="0.3"/><circle cx="417.5" cy="445.8" r="0.5" opacity="0.45"/><circle cx="338.2" cy="415.6" r="0.6" opacity="0.3"/><circle cx="417.2" cy="421.2" r="0.9" opacity="0.6"/><circle cx="289.0" cy="445.8" r="0.9" opacity="0.3"/><circle cx="266.7" cy="463.1" r="0.4" opacity="0.8"/><circle cx="184.4" cy="430.6" r="0.6" opacity="0.6"/><circle cx="400.9" cy="437.8" r="0.6" opacity="0.3"/><circle cx="309.4" cy="416.6" r="0.7" opacity="0.8"/><circle cx="303.2" cy="471.6" r="0.5" opacity="0.3"/><circle cx="280.9" cy="431.4" r="0.7" opacity="0.6"/><circle cx="444.4" cy="459.1" r="0.5" opacity="0.6"/><circle cx="202.7" cy="482.8" r="0.6" opacity="0.3"/><circle cx="165.6" cy="493.9" r="0.5" opacity="0.6"/><circle cx="441.5" cy="494.8" r="0.9" opacity="0.45"/><circle cx="153.7" cy="417.1" r="0.5" opacity="0.8"/><circle cx="240.6" cy="413.2" r="0.6" opacity="0.6"/><circle cx="193.3" cy="459.2" r="0.5" opacity="0.3"/><circle cx="380.2" cy="436.9" r="0.4" opacity="0.3"/><circle cx="279.3" cy="424.0" r="0.9" opacity="0.8"/><circle cx="331.2" cy="479.4" r="0.6" opacity="0.8"/><circle cx="257.5" cy="489.5" r="0.6" opacity="0.45"/><circle cx="203.4" cy="464.9" r="0.4" opacity="0.45"/><circle cx="390.3" cy="430.7" r="0.4" opacity="0.45"/><circle cx="204.2" cy="450.4" r="0.9" opacity="0.8"/><circle cx="175.6" cy="458.1" r="0.9" opacity="0.6"/><circle cx="314.9" cy="491.1" r="0.4" opacity="0.8"/><circle cx="317.7" cy="456.0" r="0.9" opacity="0.3"/><circle cx="420.2" cy="460.2" r="0.6" opacity="0.3"/><circle cx="373.3" cy="472.5" r="0.4" opacity="0.3"/><circle cx="365.5" cy="450.1" r="0.7" opacity="0.3"/><circle cx="359.1" cy="414.5" r="0.5" opacity="0.8"/><circle cx="221.2" cy="481.1" r="0.9" opacity="0.8"/><circle cx="419.8" cy="415.0" r="0.9" opacity="0.3"/><circle cx="338.9" cy="469.0" r="0.7" opacity="0.3"/><circle cx="174.9" cy="414.9" r="0.5" opacity="0.3"/><circle cx="170.0" cy="441.8" r="0.7" opacity="0.8"/><circle cx="158.0" cy="477.1" r="0.6" opacity="0.3"/><circle cx="391.1" cy="412.7" r="0.7" opacity="0.45"/><circle cx="450.7" cy="494.9" r="0.5" opacity="0.3"/><circle cx="424.9" cy="468.4" r="0.7" opacity="0.45"/><circle cx="209.2" cy="430.6" r="0.4" opacity="0.3"/><circle cx="187.0" cy="490.8" r="0.4" opacity="0.6"/><circle cx="181.9" cy="414.0" r="0.9" opacity="0.45"/><circle cx="263.8" cy="465.3" r="0.5" opacity="0.3"/><circle cx="229.0" cy="455.5" r="0.5" opacity="0.3"/><circle cx="285.3" cy="491.3" r="0.4" opacity="0.3"/><circle cx="310.0" cy="447.0" r="0.6" opacity="0.8"/><circle cx="412.3" cy="462.8" r="0.5" opacity="0.3"/><circle cx="359.8" cy="423.1" r="0.4" opacity="0.45"/><circle cx="450.5" cy="478.0" r="0.7" opacity="0.3"/><circle cx="420.0" cy="489.3" r="0.4" opacity="0.3"/><circle cx="247.8" cy="432.8" r="0.9" opacity="0.6"/><circle cx="301.4" cy="441.1" r="0.7" opacity="0.8"/><circle cx="214.4" cy="435.2" r="0.7" opacity="0.8"/><circle cx="338.0" cy="459.7" r="0.7" opacity="0.8"/><circle cx="207.4" cy="445.8" r="0.6" opacity="0.3"/><circle cx="202.5" cy="457.7" r="0.5" opacity="0.45"/><circle cx="369.2" cy="467.3" r="0.5" opacity="0.3"/><circle cx="254.1" cy="449.6" r="0.9" opacity="0.8"/><circle cx="215.1" cy="457.5" r="0.6" opacity="0.3"/><circle cx="155.9" cy="458.4" r="0.7" opacity="0.45"/><circle cx="417.0" cy="439.2" r="0.9" opacity="0.3"/><circle cx="292.7" cy="412.3" r="0.9" opacity="0.45"/><circle cx="172.0" cy="412.9" r="0.6" opacity="0.3"/><circle cx="178.2" cy="439.6" r="0.4" opacity="0.8"/><circle cx="349.9" cy="445.2" r="0.9" opacity="0.45"/><circle cx="306.7" cy="442.0" r="0.6" opacity="0.45"/><circle cx="248.7" cy="444.3" r="0.5" opacity="0.45"/><circle cx="325.8" cy="412.8" r="0.4" opacity="0.6"/><circle cx="297.5" cy="484.7" r="0.7" opacity="0.3"/><circle cx="234.0" cy="424.1" r="0.7" opacity="0.8"/><circle cx="359.4" cy="431.5" r="0.6" opacity="0.45"/><circle cx="380.4" cy="441.2" r="0.9" opacity="0.3"/><circle cx="318.0" cy="490.0" r="0.4" opacity="0.45"/><circle cx="315.6" cy="491.9" r="0.4" opacity="0.8"/><circle cx="191.4" cy="429.7" r="0.9" opacity="0.45"/><circle cx="427.9" cy="430.2" r="0.5" opacity="0.8"/><circle cx="153.1" cy="458.6" r="0.4" opacity="0.6"/><circle cx="302.8" cy="417.1" r="0.7" opacity="0.8"/><circle cx="284.7" cy="473.0" r="0.5" opacity="0.3"/><circle cx="432.7" cy="493.0" r="0.4" opacity="0.6"/><circle cx="230.1" cy="432.8" r="0.7" opacity="0.45"/><circle cx="384.4" cy="413.0" r="0.9" opacity="0.6"/><circle cx="356.5" cy="493.9" r="0.5" opacity="0.3"/><circle cx="167.4" cy="483.7" r="0.9" opacity="0.45"/><circle cx="352.4" cy="440.5" r="0.5" opacity="0.6"/><circle cx="241.7" cy="415.0" r="0.7" opacity="0.45"/><circle cx="289.8" cy="493.0" r="0.4" opacity="0.6"/><circle cx="203.3" cy="424.1" r="0.9" opacity="0.45"/><circle cx="346.2" cy="478.8" r="0.9" opacity="0.8"/><circle cx="410.3" cy="478.3" r="0.9" opacity="0.45"/><circle cx="406.0" cy="414.8" r="0.7" opacity="0.45"/><circle cx="237.9" cy="452.5" r="0.5" opacity="0.3"/><circle cx="307.8" cy="453.9" r="0.6" opacity="0.6"/><circle cx="265.1" cy="476.9" r="0.6" opacity="0.3"/><circle cx="457.5" cy="474.0" r="0.9" opacity="0.8"/><circle cx="245.9" cy="483.5" r="0.5" opacity="0.3"/><circle cx="211.0" cy="472.5" r="0.6" opacity="0.6"/><circle cx="241.0" cy="413.0" r="0.7" opacity="0.6"/><circle cx="264.0" cy="465.6" r="0.6" opacity="0.45"/><circle cx="320.3" cy="414.5" r="0.5" opacity="0.3"/><circle cx="164.4" cy="413.6" r="0.7" opacity="0.6"/><circle cx="258.7" cy="476.9" r="0.4" opacity="0.3"/><circle cx="367.4" cy="471.5" r="0.5" opacity="0.3"/><circle cx="224.6" cy="425.0" r="0.9" opacity="0.8"/><circle cx="262.1" cy="467.6" r="0.6" opacity="0.8"/><circle cx="160.5" cy="493.8" r="0.6" opacity="0.6"/><circle cx="290.9" cy="436.2" r="0.9" opacity="0.8"/><circle cx="380.3" cy="420.7" r="0.6" opacity="0.45"/><circle cx="277.1" cy="442.7" r="0.6" opacity="0.3"/><circle cx="456.0" cy="479.8" r="0.9" opacity="0.45"/><circle cx="169.7" cy="421.9" r="0.6" opacity="0.8"/><circle cx="302.3" cy="438.0" r="0.4" opacity="0.8"/><circle cx="229.7" cy="428.4" r="0.9" opacity="0.8"/><circle cx="202.0" cy="414.5" r="0.6" opacity="0.3"/><circle cx="309.8" cy="461.8" r="0.4" opacity="0.45"/><circle cx="285.7" cy="420.6" r="0.9" opacity="0.6"/><circle cx="362.8" cy="486.5" r="0.4" opacity="0.6"/><circle cx="194.4" cy="474.6" r="0.5" opacity="0.45"/><circle cx="244.0" cy="435.9" r="0.7" opacity="0.6"/><circle cx="451.7" cy="454.5" r="0.7" opacity="0.3"/><circle cx="331.8" cy="465.3" r="0.7" opacity="0.3"/><circle cx="175.1" cy="475.3" r="0.6" opacity="0.3"/><circle cx="395.1" cy="425.7" r="0.9" opacity="0.45"/><circle cx="455.6" cy="453.1" r="0.7" opacity="0.8"/><circle cx="439.4" cy="460.5" r="0.4" opacity="0.6"/><circle cx="284.9" cy="461.0" r="0.9" opacity="0.6"/><circle cx="385.6" cy="426.3" r="0.4" opacity="0.6"/><circle cx="307.4" cy="449.1" r="0.9" opacity="0.6"/><circle cx="249.8" cy="426.8" r="0.6" opacity="0.6"/><circle cx="251.9" cy="418.9" r="0.6" opacity="0.6"/><circle cx="430.0" cy="492.7" r="0.6" opacity="0.6"/><circle cx="394.8" cy="463.1" r="0.7" opacity="0.3"/><circle cx="244.1" cy="431.5" r="0.6" opacity="0.8"/><circle cx="289.2" cy="415.5" r="0.5" opacity="0.45"/><circle cx="406.1" cy="486.2" r="0.9" opacity="0.3"/><circle cx="174.6" cy="476.9" r="0.6" opacity="0.3"/><circle cx="298.4" cy="436.4" r="0.4" opacity="0.8"/><circle cx="376.0" cy="425.4" r="0.4" opacity="0.6"/><circle cx="430.1" cy="420.1" r="0.5" opacity="0.6"/><circle cx="343.8" cy="433.8" r="0.5" opacity="0.45"/><circle cx="301.9" cy="457.1" r="0.7" opacity="0.6"/><circle cx="293.7" cy="445.9" r="0.4" opacity="0.6"/><circle cx="232.2" cy="424.7" r="0.5" opacity="0.3"/><circle cx="336.6" cy="444.1" r="0.7" opacity="0.8"/><circle cx="187.7" cy="420.9" r="0.9" opacity="0.8"/><circle cx="271.5" cy="488.0" r="0.6" opacity="0.45"/><circle cx="218.0" cy="479.8" r="0.5" opacity="0.6"/><circle cx="318.3" cy="464.6" r="0.4" opacity="0.3"/><circle cx="150.2" cy="459.4" r="0.6" opacity="0.45"/><circle cx="358.8" cy="457.7" r="0.4" opacity="0.8"/><circle cx="229.0" cy="460.9" r="0.5" opacity="0.6"/><circle cx="169.3" cy="478.8" r="0.6" opacity="0.45"/><circle cx="274.7" cy="482.7" r="0.4" opacity="0.45"/><circle cx="324.3" cy="479.6" r="0.4" opacity="0.45"/><circle cx="337.7" cy="464.7" r="0.7" opacity="0.45"/><circle cx="279.0" cy="472.3" r="0.6" opacity="0.8"/><circle cx="172.8" cy="424.5" r="0.4" opacity="0.45"/><circle cx="193.8" cy="456.6" r="0.4" opacity="0.6"/><circle cx="437.8" cy="420.2" r="0.9" opacity="0.6"/><circle cx="349.4" cy="412.1" r="0.7" opacity="0.45"/><circle cx="310.9" cy="483.0" r="0.6" opacity="0.45"/><circle cx="200.5" cy="440.4" r="0.4" opacity="0.45"/><circle cx="411.5" cy="428.1" r="0.7" opacity="0.3"/><circle cx="373.5" cy="413.7" r="0.4" opacity="0.45"/><circle cx="242.4" cy="484.0" r="0.6" opacity="0.3"/><circle cx="284.3" cy="494.4" r="0.5" opacity="0.45"/><circle cx="178.6" cy="418.8" r="0.6" opacity="0.3"/><circle cx="291.5" cy="467.8" r="0.9" opacity="0.6"/><circle cx="332.4" cy="420.3" r="0.9" opacity="0.6"/><circle cx="386.4" cy="433.6" r="0.4" opacity="0.3"/><circle cx="262.3" cy="418.6" r="0.5" opacity="0.6"/><circle cx="364.8" cy="490.2" r="0.9" opacity="0.45"/><circle cx="204.6" cy="460.7" r="0.7" opacity="0.3"/><circle cx="368.2" cy="441.3" r="0.4" opacity="0.45"/><circle cx="209.6" cy="424.0" r="0.9" opacity="0.8"/><circle cx="314.1" cy="438.7" r="0.9" opacity="0.8"/><circle cx="332.1" cy="430.8" r="0.7" opacity="0.6"/><circle cx="286.3" cy="451.6" r="0.5" opacity="0.45"/><circle cx="288.0" cy="451.5" r="0.7" opacity="0.6"/><circle cx="379.2" cy="440.1" r="0.9" opacity="0.3"/><circle cx="356.4" cy="423.4" r="0.6" opacity="0.3"/><circle cx="447.7" cy="455.1" r="0.6" opacity="0.3"/><circle cx="304.2" cy="449.0" r="0.5" opacity="0.8"/><circle cx="217.1" cy="465.8" r="0.9" opacity="0.6"/><circle cx="258.6" cy="428.7" r="0.4" opacity="0.3"/><circle cx="252.3" cy="487.0" r="0.4" opacity="0.8"/><circle cx="453.6" cy="446.8" r="0.6" opacity="0.3"/><circle cx="379.5" cy="427.3" r="0.7" opacity="0.6"/><circle cx="167.1" cy="416.0" r="0.6" opacity="0.8"/><circle cx="222.2" cy="434.6" r="0.7" opacity="0.3"/><circle cx="214.0" cy="420.8" r="0.4" opacity="0.8"/><circle cx="184.2" cy="462.7" r="0.9" opacity="0.6"/><circle cx="256.1" cy="413.6" r="0.7" opacity="0.45"/><circle cx="277.1" cy="416.2" r="0.6" opacity="0.8"/><circle cx="272.3" cy="436.6" r="0.9" opacity="0.3"/><circle cx="343.2" cy="491.8" r="0.7" opacity="0.6"/><circle cx="351.4" cy="452.7" r="0.6" opacity="0.45"/><circle cx="222.4" cy="492.8" r="0.6" opacity="0.8"/><circle cx="333.4" cy="417.3" r="0.7" opacity="0.8"/><circle cx="354.3" cy="493.2" r="0.5" opacity="0.6"/><circle cx="427.2" cy="432.6" r="0.9" opacity="0.6"/><circle cx="420.3" cy="421.6" r="0.6" opacity="0.3"/><circle cx="280.7" cy="438.0" r="0.7" opacity="0.45"/><circle cx="269.4" cy="454.5" r="0.6" opacity="0.8"/><circle cx="331.3" cy="457.8" r="0.5" opacity="0.3"/><circle cx="173.4" cy="416.9" r="0.7" opacity="0.6"/><circle cx="412.3" cy="487.8" r="0.9" opacity="0.45"/><circle cx="328.2" cy="490.6" r="0.5" opacity="0.6"/><circle cx="433.5" cy="426.1" r="0.4" opacity="0.45"/><circle cx="425.6" cy="413.7" r="0.5" opacity="0.45"/><circle cx="384.1" cy="467.6" r="0.7" opacity="0.45"/><circle cx="444.8" cy="437.8" r="0.4" opacity="0.8"/><circle cx="166.3" cy="478.2" r="0.5" opacity="0.8"/><circle cx="219.7" cy="442.5" r="0.6" opacity="0.3"/><circle cx="150.6" cy="437.6" r="0.9" opacity="0.3"/><circle cx="445.7" cy="420.4" r="0.6" opacity="0.45"/><circle cx="353.1" cy="474.0" r="0.7" opacity="0.6"/><circle cx="290.5" cy="494.0" r="0.7" opacity="0.45"/><circle cx="195.7" cy="482.7" r="0.6" opacity="0.3"/><circle cx="317.1" cy="472.5" r="0.4" opacity="0.3"/><circle cx="340.8" cy="421.0" r="0.6" opacity="0.3"/><circle cx="252.0" cy="421.8" r="0.5" opacity="0.3"/><circle cx="271.2" cy="474.2" r="0.9" opacity="0.6"/><circle cx="377.5" cy="468.8" r="0.9" opacity="0.3"/><circle cx="223.7" cy="426.4" r="0.5" opacity="0.8"/><circle cx="176.5" cy="458.4" r="0.5" opacity="0.8"/><circle cx="250.0" cy="418.9" r="0.6" opacity="0.3"/><circle cx="158.0" cy="413.2" r="0.6" opacity="0.6"/><circle cx="322.2" cy="444.5" r="0.7" opacity="0.3"/><circle cx="422.0" cy="413.5" r="0.9" opacity="0.3"/><circle cx="429.7" cy="476.6" r="0.4" opacity="0.3"/><circle cx="374.9" cy="475.4" r="0.5" opacity="0.3"/><circle cx="352.6" cy="464.4" r="0.5" opacity="0.3"/><circle cx="414.0" cy="418.3" r="0.7" opacity="0.3"/><circle cx="216.1" cy="441.4" r="0.6" opacity="0.6"/><circle cx="366.9" cy="447.1" r="0.6" opacity="0.3"/><circle cx="256.9" cy="420.9" r="0.6" opacity="0.45"/><circle cx="242.6" cy="469.3" r="0.5" opacity="0.8"/><circle cx="197.7" cy="450.2" r="0.6" opacity="0.45"/><circle cx="196.7" cy="472.4" r="0.6" opacity="0.8"/><circle cx="156.3" cy="492.4" r="0.4" opacity="0.8"/><circle cx="386.3" cy="448.0" r="0.9" opacity="0.45"/><circle cx="402.2" cy="455.3" r="0.4" opacity="0.3"/><circle cx="386.6" cy="450.5" r="0.4" opacity="0.3"/><circle cx="388.2" cy="492.6" r="0.6" opacity="0.45"/><circle cx="177.4" cy="493.6" r="0.4" opacity="0.3"/><circle cx="302.4" cy="464.9" r="0.7" opacity="0.8"/><circle cx="316.3" cy="443.1" r="0.7" opacity="0.6"/><circle cx="346.6" cy="477.2" r="0.9" opacity="0.45"/><circle cx="388.3" cy="453.9" r="0.7" opacity="0.45"/><circle cx="195.0" cy="456.2" r="0.7" opacity="0.3"/><circle cx="170.4" cy="471.3" r="0.5" opacity="0.45"/><circle cx="157.7" cy="486.9" r="0.7" opacity="0.45"/><circle cx="195.5" cy="434.8" r="0.9" opacity="0.3"/><circle cx="307.8" cy="447.8" r="0.5" opacity="0.8"/><circle cx="222.6" cy="460.3" r="0.9" opacity="0.45"/><circle cx="315.5" cy="412.7" r="0.9" opacity="0.3"/><circle cx="208.2" cy="459.5" r="0.4" opacity="0.3"/><circle cx="363.8" cy="468.6" r="0.5" opacity="0.45"/><circle cx="431.9" cy="482.3" r="0.6" opacity="0.3"/><circle cx="350.9" cy="485.3" r="0.4" opacity="0.3"/><circle cx="261.0" cy="477.4" r="0.7" opacity="0.45"/><circle cx="225.2" cy="443.6" r="0.6" opacity="0.3"/><circle cx="300.9" cy="449.7" r="0.7" opacity="0.6"/><circle cx="304.6" cy="484.4" r="0.9" opacity="0.6"/><circle cx="372.0" cy="446.1" r="0.9" opacity="0.45"/><circle cx="335.8" cy="468.7" r="0.6" opacity="0.45"/><circle cx="436.6" cy="447.3" r="0.9" opacity="0.45"/><circle cx="433.8" cy="435.1" r="0.4" opacity="0.8"/><circle cx="328.7" cy="460.2" r="0.6" opacity="0.6"/><circle cx="155.1" cy="460.1" r="0.5" opacity="0.8"/><circle cx="351.7" cy="412.5" r="0.5" opacity="0.3"/><circle cx="284.3" cy="475.3" r="0.9" opacity="0.8"/><circle cx="293.2" cy="431.7" r="0.5" opacity="0.8"/><circle cx="259.3" cy="450.7" r="0.5" opacity="0.3"/><circle cx="202.4" cy="476.9" r="0.6" opacity="0.8"/><circle cx="275.1" cy="465.1" r="0.9" opacity="0.8"/><circle cx="339.2" cy="486.1" r="0.7" opacity="0.8"/><circle cx="357.4" cy="491.0" r="0.4" opacity="0.6"/><circle cx="362.8" cy="449.0" r="0.4" opacity="0.3"/><circle cx="302.2" cy="425.9" r="0.5" opacity="0.8"/><circle cx="305.5" cy="464.7" r="0.9" opacity="0.6"/><circle cx="157.8" cy="439.7" r="0.4" opacity="0.8"/><circle cx="336.5" cy="437.5" r="0.9" opacity="0.3"/><circle cx="253.8" cy="415.8" r="0.5" opacity="0.3"/><circle cx="288.5" cy="467.7" r="0.9" opacity="0.8"/><circle cx="272.9" cy="448.2" r="0.9" opacity="0.45"/><circle cx="257.6" cy="435.2" r="0.4" opacity="0.8"/><circle cx="169.3" cy="434.6" r="0.7" opacity="0.45"/><circle cx="264.9" cy="429.5" r="0.7" opacity="0.3"/><circle cx="432.9" cy="459.2" r="0.9" opacity="0.45"/><circle cx="347.2" cy="491.9" r="0.4" opacity="0.6"/><circle cx="337.3" cy="495.9" r="0.9" opacity="0.6"/><circle cx="252.2" cy="417.4" r="0.7" opacity="0.45"/><circle cx="161.0" cy="484.2" r="0.9" opacity="0.3"/><circle cx="248.9" cy="459.8" r="0.4" opacity="0.45"/><circle cx="223.6" cy="447.2" r="0.4" opacity="0.8"/><circle cx="423.3" cy="454.8" r="0.6" opacity="0.3"/><circle cx="410.6" cy="478.6" r="0.7" opacity="0.45"/><circle cx="263.3" cy="471.2" r="0.6" opacity="0.8"/><circle cx="376.5" cy="420.6" r="0.4" opacity="0.45"/><circle cx="429.2" cy="484.1" r="0.9" opacity="0.8"/><circle cx="271.2" cy="461.1" r="0.5" opacity="0.45"/><circle cx="182.0" cy="444.8" r="0.7" opacity="0.8"/><circle cx="325.7" cy="414.7" r="0.9" opacity="0.3"/><circle cx="267.7" cy="424.7" r="0.9" opacity="0.3"/><circle cx="160.3" cy="414.5" r="0.7" opacity="0.8"/><circle cx="220.7" cy="472.2" r="0.4" opacity="0.6"/><circle cx="446.3" cy="432.1" r="0.9" opacity="0.45"/><circle cx="390.8" cy="481.0" r="0.4" opacity="0.6"/></g><g transform="rotate(-3 339.4 437.7)"><path d="M318.59999999999997,437.7 A20.8,8.3 0 1 0 360.2,437.7 A20.8,8.3 0 1 0 318.59999999999997,437.7 Z M324.48,437.28 A14.92,3.60 0 1 0 354.32,437.28 A14.92,3.60 0 1 0 324.48,437.28 Z" fill="#cbc4e7" fill-rule="evenodd" stroke="#46211a" stroke-width="1.5" stroke-linejoin="round"/><path d="M322.59,437.28 A16.81,5.61 0 0 1 356.21,437.28 L354.32,437.28 A14.92,3.60 0 0 0 324.48,437.28 Z" fill="#a29aca" stroke="#46211a" stroke-width="0.7" stroke-linejoin="round"/><path d="M329.0,442.8 l0.3,2.5 M330.5,443.2 l0.3,2.5 M331.9,443.5 l0.3,2.3" stroke="#46211a" stroke-width="0.8" fill="none"/></g><g stroke="#46280f" stroke-width="1.8" stroke-linejoin="round">
<path d="M243.75,415.3 C244.5,411 247,408 250,406 C254,403.5 258,403 262.5,402.8 L300,396 L422,399.6 C426,399.2 430,398.6 434,397.8 C436,397.3 438,396.7 440.6,396.7 C445,396.8 449,397.3 454.7,398.3 C457.5,399 457.8,402.5 456,405 C454,408 451,410.5 448.4,412.3 C444.5,414.5 440,415.3 436,416.25 C432,417.2 428.5,418 425,419.4 C421,421 417.5,422.7 414,424 C410,425.7 406,428 401.6,428.75 C397,429.5 392,428.6 387.5,427.2 C382.5,425.6 378,423.5 373.4,423.3 C369.5,423.1 366,423.6 362.5,424 C357,424.8 352,426 346.9,427.2 C341.5,428.3 336,428.8 331,430.3 C326,432 322,434.7 318.75,438 C315,441.8 313,446.5 309.4,449 C306.5,450.7 303,451 300,451 C297,451 293.5,450.5 290.6,449.7 C285,448 280,445.5 275,443.4 C269.5,441 264.5,438.5 259.4,435.6 C256,433.5 253,431 250,427.8 C247,424.8 244,421 243.75,415.3 Z" fill="#70ad3d"/>
<path d="M159.4,401.3 C158.5,396 159.5,391.5 161.7,388.75 C164.5,385 168.5,383 173.4,381.7 C179,380.4 185,381.5 190.6,381 C195.5,380.4 199,378 203,377.8 C207.5,377.6 211,378.6 214,380 C217.5,381.7 219,384.5 221.9,385.6 C225,386.7 228,386 231,385.6 C234,385.2 236.5,383.7 239,384 C242.5,384.5 245,387.5 246.9,390.3 C252,394 260,397 268,402 L262,412 C255,414 247,415 242,417 C241,420 240,423 237.5,424.7 C234,427.5 230,429.3 225,430 C221,430.8 217,431.3 212.5,431 C208.5,430.8 205,430.3 201.6,429.4 C197.5,428.3 194,426.5 190.6,424.7 C187,423 184,421.6 181,420 C178,418.5 176,417 173.4,415.3 C170.5,413.4 168,411.3 165.6,409 C163,406.6 160.5,404 159.4,401.3 Z" fill="#70ad3d"/>
</g>
<g fill="#629c34" opacity="0.75">
<path d="M187,413 C192,416 196,415.5 200,415.5 C210,420 222,424 236,422 C232,427 224,429.5 213,429.5 C202,429 190,424 181,418.5 Z"/>
<path d="M268.75,429.4 C275,434 284,437 296.9,441.9 C303,441 307,439 312,436 C311,442 307,447 300,449.5 C290,449 277,444 262,435.5 Z"/>
<path d="M362.5,418 C375,416.5 390,421 401,423.5 C413,420 428,414 446,408 C440,413.5 430,416.5 420,420 C412,423.5 406,427 400,427 C390,426.5 380,421 362.5,422.5 Z"/>
</g>
<g fill="none" stroke="#8ec453" stroke-width="2.8" opacity="0.85" stroke-linecap="round">
<path d="M163,393 C167,386.5 178,384.5 190,384 C197,383.5 201,381 206,381.5"/><path d="M164,403 C172,401 180,403 186,407"/>
<path d="M248,412 C252,407.5 258,406 266,405.5"/><path d="M250,423 C258,423.5 266,427 272,432"/>
<path d="M318,435 C325,430.5 336,428 346,425.5"/><path d="M425,402.5 C432,401.5 442,399.5 451,400.5"/><path d="M368,419.5 C378,419 386,421.5 394,424"/>
</g>
<g fill="none" stroke="#46280f" stroke-width="1.2" stroke-linecap="round">
<path d="M161,399.7 C167,397 173,396.5 178,397 C183,399 186,402 186,404.4 C186.5,408 187,411 187.5,413.75 C191,415 194,415.3 197,415.3"/>
<path d="M176,387.5 C180,390 183,393.5 184,397"/><path d="M199,388 C198,394 199,399 201,403"/><path d="M213,391 C217,396 224,399 231,400"/>
<path d="M178,407 C179,411 181,414 183,416"/><path d="M226,424 C229,423 231,421.5 232,419.5"/>
<path d="M243.75,418.5 C249,419.5 254,419.5 259,420 C263,423 266,426.5 268.75,429.4 C274,432.5 279,435 284.4,437 C289,439 293,440.7 296.9,441.9 C302,441 306,439.5 310,437 C316,433 324,429 331,426"/>
<path d="M281,409 C282,416 286,424 291,430"/><path d="M303,409 C301,416 304,423 310,428"/><path d="M258,411 C262,414 267,416 272,417"/><path d="M262,427 C263,431 265,434 267,436"/>
<path d="M336,418 C345,415.5 355,414.5 365,415"/>
<path d="M388,412 C397,413 410,412.5 422,409.5 C432,407 441,403.5 450,401.5"/><path d="M400,404.5 C404,408 408,410.5 412,412"/><path d="M428,401.5 C430,404.5 432,406.5 435,407.5"/><path d="M378,410 C382,413 386,415 391,416"/>
</g>
<g transform="rotate(-8 228.5 405)"><path d="M194.7,405 A33.8,11.2 0 1 0 262.3,405 A33.8,11.2 0 1 0 194.7,405 Z M201.70,404.50 A26.80,5.60 0 1 0 255.30,404.50 A26.80,5.60 0 1 0 201.70,404.50 Z" fill="#cbc4e7" fill-rule="evenodd" stroke="#46211a" stroke-width="1.5" stroke-linejoin="round"/><path d="M199.45,404.50 A29.05,8.00 0 0 1 257.55,404.50 L255.30,404.50 A26.80,5.60 0 0 0 201.70,404.50 Z" fill="#a29aca" stroke="#46211a" stroke-width="0.7" stroke-linejoin="round"/><path d="M211.6,411.9 l0.3,3.0 M214.0,412.4 l0.3,3.0 M216.3,412.8 l0.3,2.8" stroke="#46211a" stroke-width="0.8" fill="none"/></g><g stroke="#5a2418" stroke-width="1.8" stroke-linejoin="round">
<path d="M241.2,382 C244,387 248,391 252.5,393.2 C258,396 264,397.8 270.4,398.8 C276.5,399.7 282.5,399.3 288.4,400 C294,400.8 298.5,405.3 304,406.7 C313,408.6 322,404 331,404.4 C337.5,404.7 343,407.5 349,408.9 C355.5,410.3 362.5,411.3 369.3,411.2 C377,411 384.5,409 391.7,406.7 C399.5,404.3 407,401.8 414.2,398.8 C422,395.5 429.5,392.5 436.6,388.7 C441,386 445,382.5 447.9,378.6 C450,375 451,371 450.5,367 L445.6,366 L238,370 Z" fill="#e58a78"/>
<path d="M237.9,377.5 C240,380.5 243,383.5 245.7,385.3 C251,389 257,392.5 263.7,394.3 C271,396 279,396 286.2,396.6 C292.5,397.3 298,400 304,401 C313,402 322,398.3 331,398.8 C336.5,399.2 341.5,402 346.8,403.3 C352.5,404.6 358.5,405.6 364.8,405.5 C372.5,405.3 380,404 387.2,402.2 C395,400.2 402.5,397.5 409.7,394.3 C417.5,391 425,388.7 432.2,385.3 C437,383 442,380 445.6,376.3 C448,373.5 449.3,370 449,366.2 C448.7,362.5 446.5,359.5 443.4,357.2 C431,347 414,333 398,329.5 C384,327 368,326 355,327 C330,328 290,340 238,366 Z" fill="#e9917f"/>
</g>
<path d="M392,398 C416,390 438,380 443,366 C445,357 436,348 425,343 C435,352 436,364 428,373 C420,383 406,391 392,398Z" fill="#f0a392" opacity="0.6"/>
<path d="M250,383 C270,392 300,396 330,395 C360,396 390,392 410,385 C380,378 300,372 250,383Z" fill="#e1856f" opacity="0.35"/>
<path d="M375,390 C381,392.5 388,393 393,391.5" fill="none" stroke="#5a2418" stroke-width="0.9"/>
<path d="M438,359 C442,364 442,371 439,377" fill="none" stroke="#5a2418" stroke-width="0.9"/>
<g stroke="#5a2418" stroke-width="1.8" stroke-linejoin="round">
<path d="M146.3,338.6 C146,330 150,321.5 160.3,316.7 C175,311 200,309 230,309 C255,309 280,308 300,309.5 C315,310 328,310 337,312.5 C347,316 353,323 356,331 C359,340 360,350 356,356 C352,362 346,364 338,365 C325,367 312,368.5 300,369 C290,371 279,375 268,374.5 C262,374.2 257,372.8 252.5,372.2 C247,371.5 242,370.3 236.9,370.6 C231,371 226,373 221.25,373 C216.5,373 213,373 208.75,372.2 C203.5,371 199,367.5 194.7,366 C190,364.4 185,364.2 180.6,363.6 C175.5,362.8 171,362 166.6,360.5 C162,359 158.5,357.5 155.6,355 C151.5,351.5 148.5,347.5 147,344 C146.5,342 146.3,340.5 146.3,338.6 Z" fill="#e58a78" transform="translate(1.5,4.7)"/>
<path d="M146.3,338.6 C146,330 150,321.5 160.3,316.7 C175,311 200,309 230,309 C255,309 280,308 300,309.5 C315,310 328,310 337,312.5 C347,316 353,323 356,331 C359,340 360,350 356,356 C352,362 346,364 338,365 C325,367 312,368.5 300,369 C290,371 279,375 268,374.5 C262,374.2 257,372.8 252.5,372.2 C247,371.5 242,370.3 236.9,370.6 C231,371 226,373 221.25,373 C216.5,373 213,373 208.75,372.2 C203.5,371 199,367.5 194.7,366 C190,364.4 185,364.2 180.6,363.6 C175.5,362.8 171,362 166.6,360.5 C162,359 158.5,357.5 155.6,355 C151.5,351.5 148.5,347.5 147,344 C146.5,342 146.3,340.5 146.3,338.6 Z" fill="#e9917f"/>
</g>
<path d="M152,341 C151,332 155,325 161,321" fill="none" stroke="#5a2418" stroke-width="0.9"/>
<path d="M160,322 C200,314 250,330 290,352 C270,360 220,364 190,360 C170,356 158,346 160,322Z" fill="#ee9f8d" opacity="0.5"/>
<path d="M236,330 C250,352 300,366 350,358 C356,350 358,340 355,331 C330,345 270,345 236,330Z" fill="#dd806c" opacity="0.4"/>
<g transform="rotate(-9 205.5 334.4)"><path d="M174.7,334.4 A30.8,10.4 0 1 0 236.3,334.4 A30.8,10.4 0 1 0 174.7,334.4 Z M181.70,333.90 A23.80,4.80 0 1 0 229.30,333.90 A23.80,4.80 0 1 0 181.70,333.90 Z" fill="#cbc4e7" fill-rule="evenodd" stroke="#46211a" stroke-width="1.5" stroke-linejoin="round"/><path d="M179.45,333.90 A26.05,7.20 0 0 1 231.55,333.90 L229.30,333.90 A23.80,4.80 0 0 0 181.70,333.90 Z" fill="#a29aca" stroke="#46211a" stroke-width="0.7" stroke-linejoin="round"/><path d="M190.1,340.8 l0.3,3.0 M192.3,341.3 l0.3,3.0 M194.4,341.7 l0.3,2.8" stroke="#46211a" stroke-width="0.8" fill="none"/></g><g transform="rotate(-7 396.4 354)"><path d="M348.59999999999997,354 A47.8,12.8 0 1 0 444.2,354 A47.8,12.8 0 1 0 348.59999999999997,354 Z M356.44,353.44 A39.96,6.53 0 1 0 436.36,353.44 A39.96,6.53 0 1 0 356.44,353.44 Z" fill="#cbc4e7" fill-rule="evenodd" stroke="#46211a" stroke-width="1.5" stroke-linejoin="round"/><path d="M353.92,353.44 A42.48,9.22 0 0 1 438.88,353.44 L436.36,353.44 A39.96,6.53 0 0 0 356.44,353.44 Z" fill="#a29aca" stroke="#46211a" stroke-width="0.7" stroke-linejoin="round"/><path d="M372.5,361.9 l0.3,3.4 M375.8,362.4 l0.3,3.4 M379.2,363.0 l0.3,3.1" stroke="#46211a" stroke-width="0.8" fill="none"/></g><g transform="rotate(1 302 300)"><path d="M259,300 L259,306.5 A43,9 0 0 0 345,306.5 L345,300 A43,9 0 0 0 259,300 Z" fill="#6a9a2f" stroke="#4b3410" stroke-width="1.5"/><ellipse cx="302" cy="300" rx="43" ry="9" fill="#b9d866" stroke="#4b3410" stroke-width="1.5"/><ellipse cx="302" cy="300" rx="37.4" ry="7.2" fill="none" stroke="#5c5a1c" stroke-width="0.8" stroke-dasharray="40 6 25 9 50 4"/><path d="M288.2,297.5 Q294.7,295.3 301.1,297.5 Q294.7,299.6 288.2,297.5Z" fill="#e9f0cc" stroke="#5f7a2c" stroke-width="0.6" transform="rotate(18 294.7 297.5)"/><path d="M302.9,297.3 Q309.3,295.1 315.8,297.3 Q309.3,299.5 302.9,297.3Z" fill="#e9f0cc" stroke="#5f7a2c" stroke-width="0.6" transform="rotate(-48 309.3 297.3)"/><path d="M293.8,302.0 Q300.3,299.8 306.7,302.0 Q300.3,304.1 293.8,302.0Z" fill="#e9f0cc" stroke="#5f7a2c" stroke-width="0.6" transform="rotate(-22 300.3 302.0)"/><path d="M308.9,302.0 Q315.3,299.8 321.8,302.0 Q315.3,304.1 308.9,302.0Z" fill="#e9f0cc" stroke="#5f7a2c" stroke-width="0.6" transform="rotate(14 315.3 302.0)"/><path d="M265.0,304.9 q-1.6,3.2 0,4.6 q1.6,-1.4 0,-4.6z" fill="#9fd4ee" stroke="#5a7f9a" stroke-width="0.4"/></g><g transform="rotate(-4 396 279)"><path d="M375,279 L375,284 A21,5.5 0 0 0 417,284 L417,279 A21,5.5 0 0 0 375,279 Z" fill="#6a9a2f" stroke="#4b3410" stroke-width="1.5"/><ellipse cx="396" cy="279" rx="21" ry="5.5" fill="#b9d866" stroke="#4b3410" stroke-width="1.5"/><ellipse cx="396" cy="279" rx="18.3" ry="4.4" fill="none" stroke="#5c5a1c" stroke-width="0.8" stroke-dasharray="40 6 25 9 50 4"/><path d="M389.3,277.5 Q392.4,275.4 395.6,277.5 Q392.4,279.5 389.3,277.5Z" fill="#e9f0cc" stroke="#5f7a2c" stroke-width="0.6" transform="rotate(18 392.4 277.5)"/><path d="M396.4,277.4 Q399.6,275.3 402.7,277.4 Q399.6,279.4 396.4,277.4Z" fill="#e9f0cc" stroke="#5f7a2c" stroke-width="0.6" transform="rotate(-48 399.6 277.4)"/><path d="M392.0,280.2 Q395.2,278.1 398.3,280.2 Q395.2,282.3 392.0,280.2Z" fill="#e9f0cc" stroke="#5f7a2c" stroke-width="0.6" transform="rotate(-22 395.2 280.2)"/><path d="M399.4,280.2 Q402.5,278.1 405.7,280.2 Q402.5,282.3 399.4,280.2Z" fill="#e9f0cc" stroke="#5f7a2c" stroke-width="0.6" transform="rotate(14 402.5 280.2)"/><path d="M377.9,282.0 q-1.6,3.2 0,4.6 q1.6,-1.4 0,-4.6z" fill="#9fd4ee" stroke="#5a7f9a" stroke-width="0.4"/></g><g transform="rotate(-6 207.5 301)"><path d="M161.0,301 L161.0,309.5 A46.5,13.7 0 0 0 254.0,309.5 L254.0,301 A46.5,13.7 0 0 0 161.0,301 Z" fill="#db2a29" stroke="#571610" stroke-width="1.6"/><path d="M164.3,305.7 A46.5,13.7 0 0 0 198.2,318.5" fill="none" stroke="#ee5a52" stroke-width="1.8" stroke-linecap="round" opacity="0.8"/><ellipse cx="207.5" cy="301" rx="46.5" ry="13.7" fill="#e43a37" stroke="#571610" stroke-width="1.6"/><ellipse cx="207.5" cy="301" rx="42.8" ry="12.1" fill="#e7423e" stroke="#b0262a" stroke-width="0.6"/><g transform="rotate(-2 214.9 293.6)"><path d="M195.4,293.6 C195.4,290.6 199.7,289.8 214.9,289.8 C230.2,289.8 234.5,290.6 234.5,293.6 C234.5,296.6 230.2,297.4 214.9,297.4 C199.7,297.4 195.4,296.6 195.4,293.6 Z" fill="#e47c84" stroke="#7e1f22" stroke-width="0.8"/><ellipse cx="217.3" cy="293.6" rx="8.2" ry="1.6" fill="#f0a5a9" opacity="0.8"/></g><g transform="rotate(-8 185.2 298.5)"><path d="M170.8,298.5 C170.8,295.0 173.9,294.0 185.2,294.0 C196.4,294.0 199.6,295.0 199.6,298.5 C199.6,302.1 196.4,303.1 185.2,303.1 C173.9,303.1 170.8,302.1 170.8,298.5 Z" fill="#e47c84" stroke="#7e1f22" stroke-width="0.8"/><ellipse cx="186.9" cy="298.5" rx="6.1" ry="1.9" fill="#f0a5a9" opacity="0.8"/></g><g transform="rotate(-6 229.8 300.3)"><path d="M213.5,300.3 C213.5,296.6 217.1,295.5 229.8,295.5 C242.5,295.5 246.1,296.6 246.1,300.3 C246.1,304.1 242.5,305.1 229.8,305.1 C217.1,305.1 213.5,304.1 213.5,300.3 Z" fill="#e47c84" stroke="#7e1f22" stroke-width="0.8"/><ellipse cx="231.8" cy="300.3" rx="6.8" ry="2.0" fill="#f0a5a9" opacity="0.8"/></g><g transform="rotate(-3 198.2 305.7)"><path d="M177.3,305.7 C177.3,302.3 181.9,301.4 198.2,301.4 C214.5,301.4 219.1,302.3 219.1,305.7 C219.1,309.0 214.5,309.9 198.2,309.9 C181.9,309.9 177.3,309.0 177.3,305.7 Z" fill="#e47c84" stroke="#7e1f22" stroke-width="0.8"/><ellipse cx="200.7" cy="305.7" rx="8.8" ry="1.8" fill="#f0a5a9" opacity="0.8"/></g></g><g transform="rotate(4.9 392 307)"><path d="M344.5,307 L344.5,315.8 A47.5,13 0 0 0 439.5,315.8 L439.5,307 A47.5,13 0 0 0 344.5,307 Z" fill="#db2a29" stroke="#571610" stroke-width="1.6"/><path d="M347.8,311.8 A47.5,13 0 0 0 382.5,324.0" fill="none" stroke="#ee5a52" stroke-width="1.8" stroke-linecap="round" opacity="0.8"/><ellipse cx="392" cy="307" rx="47.5" ry="13" fill="#e43a37" stroke="#571610" stroke-width="1.6"/><ellipse cx="392" cy="307" rx="43.7" ry="11.4" fill="#e7423e" stroke="#b0262a" stroke-width="0.6"/><g transform="rotate(3 372.1 303.1)"><path d="M357.3,303.1 C357.3,300.0 360.6,299.1 372.1,299.1 C383.5,299.1 386.8,300.0 386.8,303.1 C386.8,306.2 383.5,307.1 372.1,307.1 C360.6,307.1 357.3,306.2 357.3,303.1 Z" fill="#e47c84" stroke="#7e1f22" stroke-width="0.8"/><ellipse cx="373.8" cy="303.1" rx="6.2" ry="1.7" fill="#f0a5a9" opacity="0.8"/></g><g transform="rotate(5 402.4 300.9)"><path d="M383.4,300.9 C383.4,297.5 387.6,296.6 402.4,296.6 C417.3,296.6 421.4,297.5 421.4,300.9 C421.4,304.2 417.3,305.2 402.4,305.2 C387.6,305.2 383.4,304.2 383.4,300.9 Z" fill="#e47c84" stroke="#7e1f22" stroke-width="0.8"/><ellipse cx="404.7" cy="300.9" rx="8.0" ry="1.8" fill="#f0a5a9" opacity="0.8"/></g><g transform="rotate(4 381.6 313.0)"><path d="M360.7,313.0 C360.7,309.7 365.2,308.8 381.6,308.8 C397.9,308.8 402.4,309.7 402.4,313.0 C402.4,316.2 397.9,317.1 381.6,317.1 C365.2,317.1 360.7,316.2 360.7,313.0 Z" fill="#e47c84" stroke="#7e1f22" stroke-width="0.8"/><ellipse cx="384.1" cy="313.0" rx="8.8" ry="1.7" fill="#f0a5a9" opacity="0.8"/></g><g transform="rotate(3 415.8 310.1)"><path d="M400.1,310.1 C400.1,306.9 403.5,306.0 415.8,306.0 C428.0,306.0 431.4,306.9 431.4,310.1 C431.4,313.4 428.0,314.3 415.8,314.3 C403.5,314.3 400.1,313.4 400.1,310.1 Z" fill="#e47c84" stroke="#7e1f22" stroke-width="0.8"/><ellipse cx="417.6" cy="310.1" rx="6.6" ry="1.7" fill="#f0a5a9" opacity="0.8"/></g></g><g transform="rotate(2.3 298.5 337.5)"><path d="M238.5,337.5 L238.5,347.5 A60,16.3 0 0 0 358.5,347.5 L358.5,337.5 A60,16.3 0 0 0 238.5,337.5 Z" fill="#db2a29" stroke="#571610" stroke-width="1.6"/><path d="M242.7,343.0 A60,16.3 0 0 0 286.5,358.3" fill="none" stroke="#ee5a52" stroke-width="1.8" stroke-linecap="round" opacity="0.8"/><ellipse cx="298.5" cy="337.5" rx="60" ry="16.3" fill="#e43a37" stroke="#571610" stroke-width="1.6"/><ellipse cx="298.5" cy="337.5" rx="55.2" ry="14.3" fill="#e7423e" stroke="#b0262a" stroke-width="0.6"/><g transform="rotate(0 288.3 328.4)"><path d="M263.1,328.4 C263.1,324.8 268.6,323.8 288.3,323.8 C308.0,323.8 313.5,324.8 313.5,328.4 C313.5,331.9 308.0,332.9 288.3,332.9 C268.6,332.9 263.1,331.9 263.1,328.4 Z" fill="#e47c84" stroke="#7e1f22" stroke-width="0.8"/><ellipse cx="291.3" cy="328.4" rx="10.6" ry="1.9" fill="#f0a5a9" opacity="0.8"/></g><g transform="rotate(6 269.7 337.5)"><path d="M249.3,337.5 C249.3,332.9 253.8,331.6 269.7,331.6 C285.6,331.6 290.1,332.9 290.1,337.5 C290.1,342.1 285.6,343.4 269.7,343.4 C253.8,343.4 249.3,342.1 249.3,337.5 Z" fill="#e47c84" stroke="#7e1f22" stroke-width="0.8"/><ellipse cx="272.1" cy="337.5" rx="8.6" ry="2.5" fill="#f0a5a9" opacity="0.8"/></g><g transform="rotate(6 326.1 333.3)"><path d="M306.9,333.3 C306.9,329.1 311.1,327.9 326.1,327.9 C341.1,327.9 345.3,329.1 345.3,333.3 C345.3,337.5 341.1,338.6 326.1,338.6 C311.1,338.6 306.9,337.5 306.9,333.3 Z" fill="#e47c84" stroke="#7e1f22" stroke-width="0.8"/><ellipse cx="328.4" cy="333.3" rx="8.1" ry="2.3" fill="#f0a5a9" opacity="0.8"/></g><g transform="rotate(2 311.7 343.4)"><path d="M284.1,343.4 C284.1,339.3 290.2,338.2 311.7,338.2 C333.2,338.2 339.3,339.3 339.3,343.4 C339.3,347.4 333.2,348.6 311.7,348.6 C290.2,348.6 284.1,347.4 284.1,343.4 Z" fill="#e47c84" stroke="#7e1f22" stroke-width="0.8"/><ellipse cx="315.0" cy="343.4" rx="11.6" ry="2.2" fill="#f0a5a9" opacity="0.8"/></g></g><g stroke="#4a2313" stroke-width="1.8" stroke-linejoin="round">
<path d="M147,255.5 C165,250 180,246.5 192,244 L300,226 L411,247 C425,251 438,254.5 447.5,258 C400,272 345,291 310.3,301.3 L249,282 C248,280 247,277 244,275 C242,273.5 238,273 234,273 C230,273 226,273.5 221.2,274.1 C216,273 210,271 203.5,268.6 C196,266 188,264 178,262.3 C170,260.5 160,258 147,255.5 Z" fill="#f2b62c" transform="translate(0.3,5.7)"/>
<path d="M147,255.5 L178,262.3 L178.3,268 L147.3,261.2 Z" fill="#f2b62c" stroke="none"/>
<path d="M447.5,258 L400,272 L400.3,277.7 L447.8,263.7 Z" fill="#f2b62c" stroke="none"/>
<path d="M221.2,274.1 l0,5.7 M310.3,301.3 l0,5.7 M147,255.5 l0.3,5.7 M447.5,258 l0.3,5.7" fill="none"/>
<path d="M147,255.5 C165,250 180,246.5 192,244 L300,226 L411,247 C425,251 438,254.5 447.5,258 C400,272 345,291 310.3,301.3 L249,282 C248,280 247,277 244,275 C242,273.5 238,273 234,273 C230,273 226,273.5 221.2,274.1 C216,273 210,271 203.5,268.6 C196,266 188,264 178,262.3 C170,260.5 160,258 147,255.5 Z" fill="#f9c434"/>
</g>
<g stroke="#4a2313" stroke-width="1.3">
<ellipse cx="354.5" cy="256.5" rx="5.2" ry="2.4" fill="#f9c434"/><ellipse cx="388" cy="253.5" rx="11" ry="3.6" fill="#f2b62c"/><ellipse cx="333.3" cy="273" rx="15" ry="4.3" fill="#f2b62c"/><ellipse cx="273.7" cy="268.7" rx="8" ry="2.5" fill="#f9c434"/>
</g>
<path d="M322,274.6 Q333.3,273.5 344.6,274.6 Q333.3,277.6 322,274.6Z" fill="#f3ece6" stroke="#4a2313" stroke-width="0.8"/>
<path d="M379.5,254.8 Q388,253.8 396.5,254.8 Q388,257.3 379.5,254.8Z" fill="#a9765f" stroke="#4a2313" stroke-width="0.8"/>
<g stroke-linejoin="round">
<path d="M187.6,233 C192,240 198,245 206.7,248.5 C212,250.5 218,252.5 223,253.6 C226,254.2 229,254.6 230.8,254.8 C236,253.5 246,252 256,250.5 C268,248.5 280,247.5 292,247 C305,246.5 318,246.5 330,246 C342,245.5 352,245 362,242.5 C378,238 394,232.5 408.5,227 C415,226 422,225 427.6,224.4 L427.6,219.3 C418,213.5 408,207.5 398.4,201.5 C393,199 388,197 383,195 L330,190 L258,207 C240,213 215,223 187.6,233 Z" fill="#d93d14" stroke="#4a2313" stroke-width="1.8" transform="translate(0,5.5)"/>
<path d="M187.6,233 C192,240 198,245 206.7,248.5 C212,250.5 218,252.5 223,253.6 C226,254.2 229,254.6 230.8,254.8 C236,253.5 246,252 256,250.5 C268,248.5 280,247.5 292,247 C305,246.5 318,246.5 330,246 C342,245.5 352,245 362,242.5 C378,238 394,232.5 408.5,227 C415,226 422,225 427.6,224.4 L427.6,219.3 C418,213.5 408,207.5 398.4,201.5 C393,199 388,197 383,195 L330,190 L258,207 C240,213 215,223 187.6,233 Z" fill="#e8481b" stroke="#4a2313" stroke-width="1.8"/>
<path d="M206.7,248.5 l0,5.5 M230.8,254.8 l0,5.5 M223,253.6 l0,5.5" stroke="#4a2313" stroke-width="1.2"/>
<path d="M212.5,250.8 l5.5,1.8 l0,5 l-5.5,-1.8z" fill="#dfe3ea"/>
<path d="M224,254.2 l5.8,0.8 l0,5 l-5.8,-0.8z" fill="#f3c9bb"/>
<path d="M208,246.5 C216,243.5 224,240.5 232,237.5 C241,234 251,231.5 261,230 C278,227.5 296,228.5 313,228 C330,227.5 350,224.5 366,220.5 L367,224.5 C351,228.5 331,232 313,232.5 C296,233 278,232 262,234.5 C252,236 242,238.5 233,242 C226,244.7 219,248 213,250.6 Z" fill="#f6e3da"/>
<path d="M233,249 C248,243 268,237 290,235.5 C305,234.5 325,236 345,233.5 L345,236 C325,239 305,237.5 290,238.5 C270,240 250,246 238,250 Z" fill="#f19f86" opacity="0.9"/>
<path d="M252,211.5 C268,209.5 290,213.5 307,213 C320,212.5 332,209.5 342,206 C352,202.5 368,198.5 384,195.6 L390,198.5 C372,202 355,207 344,210.5 C333,214 320,217.5 307,218 C290,218.5 268,214.5 250,217 Z" fill="#fbf1ec"/>
<path d="M250,217 C268,214.5 290,218.5 307,218 C320,217.5 333,214 344,210.5 C355,207 372,202 390,198.5 L396,201.7 C376,206 358,211 346,215 C334,219 320,222.5 307,223 C290,223.5 270,220 248,222.5 Z" fill="#f4b5a0"/>
<path d="M384,214.5 C392,212.5 400,210.5 407,209 L416,214.3 C407,215.5 398,218 390,220 Z" fill="#f6d5c8"/>
</g>
<g transform="rotate(-11 215.5 213)"><path d="M173.0,213 L173.0,220 A42.5,10.5 0 0 0 258.0,220 L258.0,213 A42.5,10.5 0 0 0 173.0,213 Z" fill="#6a9a2f" stroke="#4b3410" stroke-width="1.5"/><ellipse cx="215.5" cy="213" rx="42.5" ry="10.5" fill="#b9d866" stroke="#4b3410" stroke-width="1.5"/><ellipse cx="215.5" cy="213" rx="37.0" ry="8.4" fill="none" stroke="#5c5a1c" stroke-width="0.8" stroke-dasharray="40 6 25 9 50 4"/><path d="M201.9,210.1 Q208.3,207.5 214.7,210.1 Q208.3,212.6 201.9,210.1Z" fill="#e9f0cc" stroke="#5f7a2c" stroke-width="0.6" transform="rotate(18 208.3 210.1)"/><path d="M216.3,209.8 Q222.7,207.3 229.1,209.8 Q222.7,212.4 216.3,209.8Z" fill="#e9f0cc" stroke="#5f7a2c" stroke-width="0.6" transform="rotate(-48 222.7 209.8)"/><path d="M207.4,215.3 Q213.8,212.8 220.2,215.3 Q213.8,217.8 207.4,215.3Z" fill="#e9f0cc" stroke="#5f7a2c" stroke-width="0.6" transform="rotate(-22 213.8 215.3)"/><path d="M222.3,215.3 Q228.7,212.8 235.1,215.3 Q228.7,217.8 222.3,215.3Z" fill="#e9f0cc" stroke="#5f7a2c" stroke-width="0.6" transform="rotate(14 228.7 215.3)"/><path d="M178.9,218.8 q-1.6,3.2 0,4.6 q1.6,-1.4 0,-4.6z" fill="#9fd4ee" stroke="#5a7f9a" stroke-width="0.4"/></g><g transform="rotate(4 292 250.5)"><path d="M254.5,250.5 L254.5,257.0 A37.5,10.5 0 0 0 329.5,257.0 L329.5,250.5 A37.5,10.5 0 0 0 254.5,250.5 Z" fill="#6a9a2f" stroke="#4b3410" stroke-width="1.5"/><ellipse cx="292" cy="250.5" rx="37.5" ry="10.5" fill="#b9d866" stroke="#4b3410" stroke-width="1.5"/><ellipse cx="292" cy="250.5" rx="32.6" ry="8.4" fill="none" stroke="#5c5a1c" stroke-width="0.8" stroke-dasharray="40 6 25 9 50 4"/><path d="M280.0,247.6 Q285.6,245.0 291.2,247.6 Q285.6,250.1 280.0,247.6Z" fill="#e9f0cc" stroke="#5f7a2c" stroke-width="0.6" transform="rotate(18 285.6 247.6)"/><path d="M292.8,247.3 Q298.4,244.8 304.0,247.3 Q298.4,249.9 292.8,247.3Z" fill="#e9f0cc" stroke="#5f7a2c" stroke-width="0.6" transform="rotate(-48 298.4 247.3)"/><path d="M284.9,252.8 Q290.5,250.3 296.1,252.8 Q290.5,255.3 284.9,252.8Z" fill="#e9f0cc" stroke="#5f7a2c" stroke-width="0.6" transform="rotate(-22 290.5 252.8)"/><path d="M298.0,252.8 Q303.6,250.3 309.2,252.8 Q303.6,255.3 298.0,252.8Z" fill="#e9f0cc" stroke="#5f7a2c" stroke-width="0.6" transform="rotate(14 303.6 252.8)"/><path d="M259.8,256.3 q-1.6,3.2 0,4.6 q1.6,-1.4 0,-4.6z" fill="#9fd4ee" stroke="#5a7f9a" stroke-width="0.4"/></g><g transform="rotate(5 379 227.5)"><path d="M337.5,227.5 L337.5,234.5 A41.5,11.5 0 0 0 420.5,234.5 L420.5,227.5 A41.5,11.5 0 0 0 337.5,227.5 Z" fill="#6a9a2f" stroke="#4b3410" stroke-width="1.5"/><ellipse cx="379" cy="227.5" rx="41.5" ry="11.5" fill="#b9d866" stroke="#4b3410" stroke-width="1.5"/><ellipse cx="379" cy="227.5" rx="36.1" ry="9.2" fill="none" stroke="#5c5a1c" stroke-width="0.8" stroke-dasharray="40 6 25 9 50 4"/><path d="M365.7,224.3 Q371.9,221.5 378.2,224.3 Q371.9,227.0 365.7,224.3Z" fill="#e9f0cc" stroke="#5f7a2c" stroke-width="0.6" transform="rotate(18 371.9 224.3)"/><path d="M379.8,224.1 Q386.1,221.3 392.3,224.1 Q386.1,226.8 379.8,224.1Z" fill="#e9f0cc" stroke="#5f7a2c" stroke-width="0.6" transform="rotate(-48 386.1 224.1)"/><path d="M371.1,230.0 Q377.3,227.3 383.6,230.0 Q377.3,232.8 371.1,230.0Z" fill="#e9f0cc" stroke="#5f7a2c" stroke-width="0.6" transform="rotate(-22 377.3 230.0)"/><path d="M385.6,230.0 Q391.9,227.3 398.1,230.0 Q391.9,232.8 385.6,230.0Z" fill="#e9f0cc" stroke="#5f7a2c" stroke-width="0.6" transform="rotate(14 391.9 230.0)"/><path d="M343.3,233.8 q-1.6,3.2 0,4.6 q1.6,-1.4 0,-4.6z" fill="#9fd4ee" stroke="#5a7f9a" stroke-width="0.4"/></g><g transform="rotate(10 231 198.4)"><path d="M198.7,198.4 A32.3,10.3 0 1 0 263.3,198.4 A32.3,10.3 0 1 0 198.7,198.4 Z M205.70,197.90 A25.30,4.70 0 1 0 256.30,197.90 A25.30,4.70 0 1 0 205.70,197.90 Z" fill="#cbc4e7" fill-rule="evenodd" stroke="#46211a" stroke-width="1.5" stroke-linejoin="round"/><path d="M203.45,197.90 A27.55,7.10 0 0 1 258.55,197.90 L256.30,197.90 A25.30,4.70 0 0 0 205.70,197.90 Z" fill="#a29aca" stroke="#46211a" stroke-width="0.7" stroke-linejoin="round"/><path d="M214.8,204.8 l0.3,3.0 M217.1,205.2 l0.3,3.0 M219.4,205.6 l0.3,2.8" stroke="#46211a" stroke-width="0.8" fill="none"/></g><g transform="rotate(10 345.1 236)"><path d="M311.1,236 A34,11.8 0 1 0 379.1,236 A34,11.8 0 1 0 311.1,236 Z M318.38,235.48 A26.72,5.98 0 1 0 371.82,235.48 A26.72,5.98 0 1 0 318.38,235.48 Z" fill="#cbc4e7" fill-rule="evenodd" stroke="#46211a" stroke-width="1.5" stroke-linejoin="round"/><path d="M316.04,235.48 A29.06,8.47 0 0 1 374.16,235.48 L371.82,235.48 A26.72,5.98 0 0 0 318.38,235.48 Z" fill="#a29aca" stroke="#46211a" stroke-width="0.7" stroke-linejoin="round"/><path d="M328.1,243.3 l0.3,3.1 M330.5,243.8 l0.3,3.1 M332.9,244.3 l0.3,2.9" stroke="#46211a" stroke-width="0.8" fill="none"/></g><g stroke="#4a2313" stroke-width="1.8" stroke-linejoin="round">
<path d="M154,146 C190,136 240,122 276,112 C281,110 283,104.5 290,103.3 C297,102.3 303,104 308,106 C325,110.5 340,114.5 354,118 C378,124 400,129.5 421,134.5 C433,137.5 445,140 450,142.5 C456,145 457.5,149 457,155 C457,161 458.5,168 458,173 C457.5,180 450,184.5 443,184 C437,183.6 431,181 426,181 C410,184.5 396,188.5 382,192.3 C356,199.5 332,207 311,213.3 C280,205 200,185 156.5,174 C152.5,170 152,150 154,146 Z" fill="#f5a83c"/>
<path d="M421.5,158.5 L447,159.5 L457,155 C457,161 458.5,168 458,173 C457.5,180 450,184.5 443,184 C437,183.6 431,181 426,181 C424,181 422,181.5 421.5,181.7 Z" fill="#efb668" stroke="none"/>
<path d="M154,146 C190,136 240,122 276,112 C281,110 283,104.5 290,103.3 C297,102.3 303,104 308,106 C325,110.5 340,114.5 354,118 C378,124 400,129.5 421,134.5 C433,137.5 445,140 450,142.5 C456,145 457,150 454,155 C451,159.5 446,159.5 440,159 C434,158.5 428,157.5 421.5,158.5 C405,161 390,164.5 376,168.3 C350,175.5 325,184 303,186.3 C290,186 240,170.5 155.5,148 Z" fill="#f9ca88"/>
</g>
<path d="M160,147.5 C185,140.5 215,132 240,125.5 C232,131 230,140 234,148 C240,158 258,160 268,164 C280,169 288,176 300,180 C305,182 306,184 303,185.3 C290,185 240,170 160,147.5Z" fill="#e8b16f" opacity="0.85"/>
<path d="M158,160 C200,171 265,188 311,200 C345,191 395,176 422,170" fill="none" stroke="#ea982e" stroke-width="7" opacity="0.35"/>
<g fill="none" stroke="#4a2313" stroke-width="0.9" stroke-linecap="round">
<path d="M289,110 C293,108.5 298,108 302,108.5"/><path d="M216,133 C218,132 220,131.5 222,131"/><path d="M168,148 C169,146 171,144.5 173,144"/><path d="M310,179.5 C314,178.5 318,178 322,178.3"/>
<path d="M369,127 C372,128 374,128.5 376,129"/><path d="M408,141 C410,140 411,139.5 412,139"/>
<path d="M162,168 C170,170 178,172 186,172.5"/><path d="M246,177 C255,181 270,183 284,186"/><path d="M262,198 C270,200 278,202 286,202.5"/><path d="M312,205 C322,204 332,201 340,198"/>
</g>
<clipPath id="cpt"><path d="M154,146 C190,136 240,122 276,112 C281,110 283,104.5 290,103.3 C297,102.3 303,104 308,106 C325,110.5 340,114.5 354,118 C378,124 400,129.5 421,134.5 C433,137.5 445,140 450,142.5 C456,145 457.5,149 457,155 C457,161 458.5,168 458,173 C457.5,180 450,184.5 443,184 C437,183.6 431,181 426,181 C410,184.5 396,188.5 382,192.3 C356,199.5 332,207 311,213.3 C280,205 200,185 156.5,174 C152.5,170 152,150 154,146 Z"/></clipPath><g clip-path="url(#cpt)" fill="#a8642a"><circle cx="343.9" cy="185.8" r="0.9" opacity="0.3"/><circle cx="410.8" cy="189.7" r="0.5" opacity="0.3"/><circle cx="429.5" cy="114.8" r="0.7" opacity="0.45"/><circle cx="269.3" cy="113.5" r="0.5" opacity="0.3"/><circle cx="377.2" cy="148.1" r="0.5" opacity="0.8"/><circle cx="201.2" cy="192.1" r="0.5" opacity="0.8"/><circle cx="191.0" cy="102.2" r="0.4" opacity="0.45"/><circle cx="390.3" cy="210.5" r="0.5" opacity="0.45"/><circle cx="241.1" cy="210.6" r="0.9" opacity="0.45"/><circle cx="208.0" cy="211.4" r="0.5" opacity="0.8"/><circle cx="244.0" cy="142.8" r="0.5" opacity="0.45"/><circle cx="233.3" cy="139.5" r="0.9" opacity="0.3"/><circle cx="335.6" cy="182.0" r="0.4" opacity="0.6"/><circle cx="261.4" cy="136.6" r="0.6" opacity="0.45"/><circle cx="300.2" cy="181.6" r="0.4" opacity="0.6"/><circle cx="452.3" cy="104.6" r="0.6" opacity="0.8"/><circle cx="157.6" cy="191.0" r="0.6" opacity="0.8"/><circle cx="330.2" cy="103.0" r="0.4" opacity="0.45"/><circle cx="344.1" cy="209.8" r="0.4" opacity="0.45"/><circle cx="438.3" cy="208.5" r="0.6" opacity="0.6"/><circle cx="427.0" cy="130.4" r="0.7" opacity="0.3"/><circle cx="333.6" cy="190.3" r="0.6" opacity="0.6"/><circle cx="163.3" cy="208.9" r="0.4" opacity="0.45"/><circle cx="256.9" cy="171.0" r="0.5" opacity="0.6"/><circle cx="236.9" cy="181.4" r="0.4" opacity="0.6"/><circle cx="363.3" cy="136.6" r="0.4" opacity="0.45"/><circle cx="374.1" cy="137.0" r="0.7" opacity="0.45"/><circle cx="373.8" cy="111.1" r="0.9" opacity="0.8"/><circle cx="161.8" cy="185.7" r="0.6" opacity="0.6"/><circle cx="292.3" cy="149.7" r="0.4" opacity="0.3"/><circle cx="398.9" cy="139.8" r="0.5" opacity="0.45"/><circle cx="454.2" cy="165.7" r="0.5" opacity="0.8"/><circle cx="184.8" cy="151.1" r="0.5" opacity="0.3"/><circle cx="412.2" cy="135.3" r="0.7" opacity="0.45"/><circle cx="452.6" cy="153.3" r="0.7" opacity="0.6"/><circle cx="299.5" cy="134.9" r="0.7" opacity="0.45"/><circle cx="186.7" cy="194.9" r="0.9" opacity="0.45"/><circle cx="345.1" cy="158.4" r="0.6" opacity="0.45"/><circle cx="179.5" cy="132.8" r="0.9" opacity="0.6"/><circle cx="171.4" cy="191.9" r="0.6" opacity="0.3"/><circle cx="386.0" cy="143.1" r="0.6" opacity="0.8"/><circle cx="233.6" cy="212.8" r="0.6" opacity="0.6"/><circle cx="352.1" cy="167.6" r="0.4" opacity="0.8"/><circle cx="320.5" cy="130.3" r="0.6" opacity="0.8"/><circle cx="241.0" cy="158.5" r="0.6" opacity="0.6"/><circle cx="236.4" cy="141.1" r="0.7" opacity="0.6"/><circle cx="436.1" cy="121.5" r="0.7" opacity="0.6"/><circle cx="446.6" cy="160.5" r="0.9" opacity="0.45"/><circle cx="213.2" cy="142.9" r="0.7" opacity="0.6"/><circle cx="365.0" cy="183.3" r="0.7" opacity="0.45"/><circle cx="342.0" cy="207.8" r="0.9" opacity="0.8"/><circle cx="245.2" cy="164.5" r="0.6" opacity="0.3"/><circle cx="212.2" cy="168.3" r="0.9" opacity="0.45"/><circle cx="219.5" cy="179.5" r="0.4" opacity="0.8"/><circle cx="453.8" cy="120.7" r="0.5" opacity="0.3"/><circle cx="249.7" cy="122.5" r="0.5" opacity="0.3"/><circle cx="280.0" cy="141.7" r="0.9" opacity="0.3"/><circle cx="333.8" cy="128.9" r="0.6" opacity="0.3"/><circle cx="260.0" cy="209.6" r="0.7" opacity="0.3"/><circle cx="364.2" cy="163.8" r="0.4" opacity="0.6"/><circle cx="181.2" cy="163.6" r="0.6" opacity="0.6"/><circle cx="447.2" cy="194.5" r="0.7" opacity="0.8"/><circle cx="402.4" cy="174.6" r="0.6" opacity="0.8"/><circle cx="195.8" cy="169.3" r="0.9" opacity="0.8"/><circle cx="446.8" cy="211.4" r="0.9" opacity="0.3"/><circle cx="260.1" cy="203.0" r="0.4" opacity="0.8"/><circle cx="185.2" cy="165.9" r="0.9" opacity="0.45"/><circle cx="252.2" cy="201.0" r="0.9" opacity="0.8"/><circle cx="284.2" cy="212.4" r="0.7" opacity="0.6"/><circle cx="299.7" cy="182.0" r="0.7" opacity="0.45"/><circle cx="335.5" cy="131.4" r="0.6" opacity="0.8"/><circle cx="229.3" cy="104.2" r="0.6" opacity="0.8"/><circle cx="438.3" cy="118.2" r="0.4" opacity="0.3"/><circle cx="355.3" cy="210.6" r="0.5" opacity="0.6"/><circle cx="164.3" cy="117.4" r="0.7" opacity="0.3"/><circle cx="299.9" cy="165.3" r="0.5" opacity="0.8"/><circle cx="392.8" cy="129.8" r="0.6" opacity="0.45"/><circle cx="374.2" cy="134.3" r="0.7" opacity="0.8"/><circle cx="311.6" cy="199.6" r="0.4" opacity="0.3"/><circle cx="386.2" cy="136.0" r="0.9" opacity="0.6"/><circle cx="341.0" cy="184.6" r="0.4" opacity="0.8"/><circle cx="259.7" cy="179.0" r="0.9" opacity="0.45"/><circle cx="163.2" cy="130.5" r="0.7" opacity="0.3"/><circle cx="425.5" cy="163.7" r="0.4" opacity="0.8"/><circle cx="391.7" cy="150.3" r="0.9" opacity="0.8"/><circle cx="416.5" cy="197.1" r="0.7" opacity="0.8"/><circle cx="362.2" cy="183.3" r="0.6" opacity="0.8"/><circle cx="407.6" cy="109.5" r="0.4" opacity="0.8"/><circle cx="331.3" cy="175.3" r="0.7" opacity="0.6"/><circle cx="195.9" cy="156.1" r="0.9" opacity="0.8"/><circle cx="451.7" cy="162.8" r="0.7" opacity="0.3"/><circle cx="173.1" cy="128.0" r="0.4" opacity="0.3"/><circle cx="356.4" cy="104.9" r="0.7" opacity="0.3"/><circle cx="459.5" cy="181.2" r="0.4" opacity="0.3"/><circle cx="411.4" cy="126.8" r="0.4" opacity="0.45"/><circle cx="458.2" cy="181.8" r="0.7" opacity="0.45"/><circle cx="208.4" cy="122.9" r="0.5" opacity="0.3"/><circle cx="343.7" cy="106.9" r="0.4" opacity="0.8"/><circle cx="381.6" cy="133.6" r="0.9" opacity="0.3"/><circle cx="380.6" cy="201.3" r="0.5" opacity="0.3"/><circle cx="285.0" cy="137.5" r="0.9" opacity="0.8"/><circle cx="302.8" cy="208.1" r="0.6" opacity="0.3"/><circle cx="194.6" cy="135.3" r="0.9" opacity="0.6"/><circle cx="432.4" cy="164.7" r="0.9" opacity="0.45"/><circle cx="233.1" cy="164.3" r="0.6" opacity="0.6"/><circle cx="311.2" cy="117.1" r="0.5" opacity="0.6"/><circle cx="291.6" cy="145.9" r="0.5" opacity="0.3"/><circle cx="353.7" cy="111.6" r="0.4" opacity="0.3"/><circle cx="417.9" cy="159.2" r="0.7" opacity="0.45"/><circle cx="272.1" cy="154.3" r="0.6" opacity="0.3"/><circle cx="397.3" cy="105.3" r="0.7" opacity="0.3"/><circle cx="413.3" cy="208.7" r="0.7" opacity="0.45"/><circle cx="382.9" cy="111.5" r="0.7" opacity="0.45"/><circle cx="195.0" cy="172.6" r="0.6" opacity="0.45"/><circle cx="241.3" cy="207.2" r="0.6" opacity="0.8"/><circle cx="268.5" cy="183.7" r="0.6" opacity="0.6"/><circle cx="399.8" cy="151.0" r="0.6" opacity="0.3"/><circle cx="334.5" cy="166.8" r="0.5" opacity="0.8"/><circle cx="171.5" cy="106.2" r="0.5" opacity="0.45"/><circle cx="212.2" cy="157.4" r="0.7" opacity="0.6"/><circle cx="152.1" cy="155.1" r="0.9" opacity="0.8"/><circle cx="251.6" cy="154.2" r="0.5" opacity="0.45"/><circle cx="353.2" cy="110.0" r="0.7" opacity="0.8"/><circle cx="198.9" cy="130.7" r="0.6" opacity="0.45"/><circle cx="383.1" cy="177.9" r="0.4" opacity="0.8"/><circle cx="428.1" cy="140.9" r="0.6" opacity="0.6"/><circle cx="440.9" cy="179.7" r="0.7" opacity="0.8"/><circle cx="413.4" cy="119.6" r="0.6" opacity="0.6"/><circle cx="291.8" cy="129.1" r="0.5" opacity="0.3"/><circle cx="213.9" cy="104.8" r="0.5" opacity="0.3"/><circle cx="342.2" cy="205.0" r="0.6" opacity="0.6"/><circle cx="208.8" cy="142.8" r="0.4" opacity="0.8"/><circle cx="202.3" cy="129.2" r="0.5" opacity="0.3"/><circle cx="350.9" cy="150.7" r="0.6" opacity="0.3"/><circle cx="294.3" cy="153.2" r="0.7" opacity="0.45"/><circle cx="165.8" cy="164.0" r="0.9" opacity="0.6"/><circle cx="441.4" cy="183.0" r="0.5" opacity="0.8"/><circle cx="180.3" cy="155.3" r="0.5" opacity="0.3"/><circle cx="305.2" cy="190.3" r="0.4" opacity="0.6"/><circle cx="408.7" cy="152.4" r="0.4" opacity="0.3"/><circle cx="444.6" cy="124.0" r="0.9" opacity="0.8"/><circle cx="209.9" cy="128.4" r="0.6" opacity="0.3"/><circle cx="178.7" cy="213.3" r="0.5" opacity="0.3"/><circle cx="415.9" cy="126.2" r="0.4" opacity="0.8"/><circle cx="318.2" cy="157.0" r="0.9" opacity="0.8"/><circle cx="312.9" cy="117.0" r="0.4" opacity="0.6"/><circle cx="364.1" cy="202.7" r="0.5" opacity="0.3"/><circle cx="194.7" cy="156.6" r="0.6" opacity="0.8"/><circle cx="248.4" cy="116.7" r="0.4" opacity="0.8"/><circle cx="227.4" cy="111.5" r="0.7" opacity="0.45"/><circle cx="237.0" cy="157.7" r="0.5" opacity="0.3"/><circle cx="368.7" cy="192.0" r="0.6" opacity="0.3"/><circle cx="174.1" cy="188.9" r="0.7" opacity="0.3"/><circle cx="428.0" cy="175.9" r="0.5" opacity="0.3"/><circle cx="288.2" cy="194.3" r="0.4" opacity="0.3"/><circle cx="368.0" cy="132.2" r="0.7" opacity="0.45"/><circle cx="251.0" cy="136.6" r="0.5" opacity="0.6"/><circle cx="305.3" cy="138.5" r="0.4" opacity="0.3"/><circle cx="319.1" cy="185.5" r="0.4" opacity="0.3"/><circle cx="189.5" cy="211.6" r="0.6" opacity="0.8"/><circle cx="416.8" cy="209.3" r="0.9" opacity="0.3"/><circle cx="223.2" cy="150.5" r="0.6" opacity="0.45"/><circle cx="253.8" cy="103.4" r="0.9" opacity="0.45"/><circle cx="375.9" cy="112.8" r="0.9" opacity="0.45"/><circle cx="346.2" cy="118.3" r="0.7" opacity="0.8"/><circle cx="188.4" cy="137.8" r="0.5" opacity="0.8"/><circle cx="335.6" cy="121.4" r="0.4" opacity="0.45"/><circle cx="316.0" cy="211.6" r="0.9" opacity="0.3"/><circle cx="183.9" cy="194.0" r="0.7" opacity="0.3"/><circle cx="215.9" cy="102.1" r="0.9" opacity="0.45"/><circle cx="300.5" cy="201.6" r="0.7" opacity="0.8"/><circle cx="218.4" cy="133.3" r="0.5" opacity="0.6"/><circle cx="325.2" cy="142.3" r="0.5" opacity="0.6"/><circle cx="260.3" cy="130.1" r="0.4" opacity="0.8"/><circle cx="275.5" cy="118.2" r="0.5" opacity="0.8"/><circle cx="269.5" cy="112.6" r="0.7" opacity="0.3"/><circle cx="384.1" cy="133.8" r="0.5" opacity="0.6"/><circle cx="299.0" cy="155.1" r="0.9" opacity="0.3"/><circle cx="398.5" cy="144.5" r="0.4" opacity="0.3"/><circle cx="309.6" cy="168.3" r="0.5" opacity="0.8"/><circle cx="158.8" cy="178.6" r="0.9" opacity="0.6"/><circle cx="310.2" cy="158.6" r="0.9" opacity="0.8"/><circle cx="290.5" cy="191.0" r="0.9" opacity="0.3"/><circle cx="317.3" cy="192.3" r="0.6" opacity="0.3"/><circle cx="361.3" cy="161.0" r="0.6" opacity="0.6"/><circle cx="175.9" cy="111.9" r="0.6" opacity="0.8"/><circle cx="246.5" cy="207.0" r="0.6" opacity="0.45"/><circle cx="174.2" cy="187.1" r="0.6" opacity="0.6"/><circle cx="363.8" cy="196.7" r="0.9" opacity="0.45"/><circle cx="300.8" cy="112.4" r="0.4" opacity="0.45"/><circle cx="257.3" cy="190.8" r="0.7" opacity="0.8"/><circle cx="450.5" cy="177.8" r="0.7" opacity="0.45"/><circle cx="383.2" cy="161.7" r="0.5" opacity="0.6"/><circle cx="271.1" cy="114.3" r="0.9" opacity="0.6"/><circle cx="228.7" cy="113.3" r="0.6" opacity="0.6"/><circle cx="397.6" cy="192.1" r="0.4" opacity="0.45"/><circle cx="175.6" cy="148.7" r="0.5" opacity="0.45"/><circle cx="354.0" cy="166.4" r="0.9" opacity="0.8"/><circle cx="280.4" cy="150.1" r="0.9" opacity="0.45"/><circle cx="245.1" cy="133.7" r="0.9" opacity="0.6"/><circle cx="209.7" cy="105.4" r="0.4" opacity="0.6"/><circle cx="325.3" cy="170.2" r="0.5" opacity="0.8"/><circle cx="210.6" cy="169.2" r="0.6" opacity="0.3"/><circle cx="170.9" cy="156.8" r="0.9" opacity="0.3"/><circle cx="250.1" cy="198.1" r="0.7" opacity="0.45"/><circle cx="427.2" cy="171.5" r="0.7" opacity="0.3"/><circle cx="152.5" cy="178.0" r="0.4" opacity="0.3"/><circle cx="255.4" cy="143.5" r="0.4" opacity="0.8"/><circle cx="378.8" cy="194.2" r="0.5" opacity="0.3"/><circle cx="264.5" cy="194.0" r="0.5" opacity="0.45"/><circle cx="251.8" cy="121.5" r="0.4" opacity="0.45"/><circle cx="276.2" cy="163.4" r="0.7" opacity="0.3"/><circle cx="188.2" cy="169.5" r="0.6" opacity="0.45"/><circle cx="362.6" cy="158.0" r="0.6" opacity="0.3"/><circle cx="303.1" cy="208.0" r="0.6" opacity="0.3"/><circle cx="188.0" cy="156.1" r="0.6" opacity="0.45"/><circle cx="434.9" cy="145.2" r="0.6" opacity="0.8"/><circle cx="349.9" cy="188.6" r="0.4" opacity="0.3"/><circle cx="243.2" cy="140.1" r="0.4" opacity="0.8"/><circle cx="167.5" cy="149.5" r="0.5" opacity="0.6"/><circle cx="357.2" cy="110.3" r="0.6" opacity="0.3"/><circle cx="322.4" cy="150.9" r="0.5" opacity="0.8"/><circle cx="415.5" cy="129.7" r="0.7" opacity="0.6"/><circle cx="191.7" cy="111.4" r="0.5" opacity="0.6"/><circle cx="401.7" cy="104.4" r="0.9" opacity="0.8"/><circle cx="446.7" cy="200.1" r="0.4" opacity="0.3"/><circle cx="451.2" cy="123.9" r="0.7" opacity="0.3"/><circle cx="297.3" cy="111.6" r="0.6" opacity="0.8"/><circle cx="308.4" cy="108.0" r="0.7" opacity="0.8"/><circle cx="416.9" cy="208.2" r="0.9" opacity="0.3"/><circle cx="218.4" cy="149.6" r="0.7" opacity="0.8"/><circle cx="433.9" cy="144.8" r="0.5" opacity="0.6"/><circle cx="197.7" cy="190.2" r="0.7" opacity="0.3"/><circle cx="458.2" cy="126.5" r="0.7" opacity="0.45"/><circle cx="235.4" cy="155.1" r="0.6" opacity="0.3"/><circle cx="357.3" cy="115.9" r="0.5" opacity="0.8"/><circle cx="175.7" cy="179.7" r="0.4" opacity="0.8"/><circle cx="424.7" cy="124.2" r="0.4" opacity="0.8"/><circle cx="447.9" cy="169.7" r="0.5" opacity="0.8"/><circle cx="224.9" cy="206.0" r="0.9" opacity="0.3"/><circle cx="156.4" cy="193.8" r="0.4" opacity="0.6"/><circle cx="192.5" cy="175.9" r="0.6" opacity="0.45"/><circle cx="198.8" cy="160.6" r="0.9" opacity="0.3"/><circle cx="239.4" cy="114.0" r="0.7" opacity="0.6"/><circle cx="245.5" cy="204.4" r="0.9" opacity="0.8"/><circle cx="449.5" cy="129.2" r="0.9" opacity="0.45"/><circle cx="233.0" cy="163.6" r="0.7" opacity="0.45"/><circle cx="225.2" cy="177.1" r="0.4" opacity="0.3"/><circle cx="156.7" cy="125.9" r="0.5" opacity="0.45"/><circle cx="396.2" cy="108.3" r="0.9" opacity="0.45"/><circle cx="163.8" cy="145.6" r="0.6" opacity="0.3"/><circle cx="323.8" cy="151.7" r="0.4" opacity="0.3"/><circle cx="436.8" cy="143.9" r="0.9" opacity="0.6"/><circle cx="371.7" cy="207.9" r="0.7" opacity="0.8"/><circle cx="244.9" cy="120.8" r="0.4" opacity="0.8"/><circle cx="169.0" cy="126.0" r="0.9" opacity="0.8"/><circle cx="182.3" cy="160.0" r="0.9" opacity="0.6"/><circle cx="407.5" cy="117.6" r="0.6" opacity="0.3"/><circle cx="304.2" cy="165.9" r="0.5" opacity="0.8"/><circle cx="165.0" cy="185.9" r="0.4" opacity="0.6"/><circle cx="424.6" cy="144.3" r="0.6" opacity="0.6"/><circle cx="403.1" cy="156.7" r="0.5" opacity="0.3"/><circle cx="232.7" cy="195.7" r="0.6" opacity="0.8"/><circle cx="203.2" cy="191.2" r="0.6" opacity="0.8"/><circle cx="433.9" cy="196.5" r="0.9" opacity="0.45"/><circle cx="326.2" cy="203.9" r="0.6" opacity="0.3"/><circle cx="155.0" cy="106.9" r="0.9" opacity="0.8"/><circle cx="359.6" cy="175.4" r="0.4" opacity="0.8"/><circle cx="188.2" cy="183.5" r="0.9" opacity="0.8"/><circle cx="340.5" cy="127.0" r="0.4" opacity="0.3"/><circle cx="373.5" cy="168.9" r="0.4" opacity="0.3"/><circle cx="372.5" cy="136.3" r="0.9" opacity="0.3"/><circle cx="446.6" cy="178.8" r="0.6" opacity="0.3"/><circle cx="276.8" cy="136.5" r="0.7" opacity="0.6"/><circle cx="244.1" cy="201.3" r="0.6" opacity="0.8"/><circle cx="295.4" cy="119.6" r="0.5" opacity="0.6"/><circle cx="248.9" cy="171.1" r="0.7" opacity="0.3"/><circle cx="198.3" cy="214.3" r="0.7" opacity="0.8"/><circle cx="343.5" cy="175.5" r="0.5" opacity="0.45"/><circle cx="194.8" cy="157.5" r="0.9" opacity="0.8"/><circle cx="440.1" cy="140.9" r="0.4" opacity="0.45"/><circle cx="285.6" cy="165.6" r="0.9" opacity="0.45"/><circle cx="323.0" cy="176.8" r="0.7" opacity="0.6"/><circle cx="409.5" cy="135.2" r="0.4" opacity="0.45"/><circle cx="231.8" cy="142.4" r="0.9" opacity="0.6"/><circle cx="301.9" cy="182.1" r="0.4" opacity="0.3"/><circle cx="364.4" cy="114.5" r="0.4" opacity="0.3"/><circle cx="420.2" cy="134.2" r="0.9" opacity="0.45"/><circle cx="167.4" cy="211.8" r="0.7" opacity="0.45"/><circle cx="348.0" cy="183.8" r="0.6" opacity="0.3"/><circle cx="277.8" cy="139.2" r="0.4" opacity="0.6"/><circle cx="171.8" cy="183.0" r="0.7" opacity="0.8"/><circle cx="171.3" cy="136.1" r="0.5" opacity="0.3"/><circle cx="442.6" cy="191.3" r="0.9" opacity="0.8"/><circle cx="184.1" cy="149.0" r="0.5" opacity="0.8"/><circle cx="160.3" cy="165.8" r="0.6" opacity="0.3"/><circle cx="361.9" cy="138.5" r="0.6" opacity="0.3"/><circle cx="295.6" cy="113.6" r="0.5" opacity="0.3"/><circle cx="341.4" cy="112.7" r="0.9" opacity="0.8"/><circle cx="286.7" cy="132.8" r="0.9" opacity="0.8"/><circle cx="451.7" cy="150.3" r="0.5" opacity="0.45"/><circle cx="269.6" cy="173.6" r="0.5" opacity="0.6"/><circle cx="423.5" cy="182.4" r="0.4" opacity="0.45"/><circle cx="246.3" cy="198.7" r="0.7" opacity="0.6"/><circle cx="288.5" cy="205.7" r="0.9" opacity="0.6"/><circle cx="239.5" cy="186.1" r="0.6" opacity="0.8"/><circle cx="296.9" cy="187.7" r="0.9" opacity="0.3"/><circle cx="193.3" cy="124.9" r="0.4" opacity="0.8"/><circle cx="459.2" cy="117.1" r="0.5" opacity="0.3"/><circle cx="373.6" cy="131.0" r="0.7" opacity="0.45"/><circle cx="399.0" cy="156.4" r="0.6" opacity="0.6"/><circle cx="345.3" cy="180.8" r="0.9" opacity="0.3"/><circle cx="215.7" cy="104.7" r="0.9" opacity="0.8"/><circle cx="348.8" cy="157.2" r="0.9" opacity="0.6"/><circle cx="338.5" cy="108.5" r="0.6" opacity="0.45"/><circle cx="313.4" cy="135.2" r="0.6" opacity="0.45"/><circle cx="241.3" cy="124.0" r="0.4" opacity="0.3"/><circle cx="302.1" cy="120.0" r="0.7" opacity="0.6"/><circle cx="281.6" cy="196.7" r="0.7" opacity="0.6"/><circle cx="433.7" cy="161.2" r="0.6" opacity="0.3"/><circle cx="201.1" cy="157.9" r="0.4" opacity="0.8"/><circle cx="389.6" cy="196.6" r="0.4" opacity="0.45"/><circle cx="316.9" cy="156.1" r="0.4" opacity="0.45"/><circle cx="204.0" cy="121.3" r="0.9" opacity="0.45"/><circle cx="357.1" cy="147.1" r="0.4" opacity="0.8"/><circle cx="280.6" cy="199.6" r="0.6" opacity="0.3"/><circle cx="215.1" cy="128.7" r="0.4" opacity="0.6"/><circle cx="285.9" cy="136.6" r="0.4" opacity="0.6"/><circle cx="323.7" cy="164.3" r="0.7" opacity="0.3"/><circle cx="426.7" cy="162.0" r="0.4" opacity="0.45"/><circle cx="283.1" cy="154.4" r="0.5" opacity="0.45"/><circle cx="184.7" cy="153.8" r="0.7" opacity="0.8"/><circle cx="298.8" cy="161.0" r="0.4" opacity="0.8"/><circle cx="409.1" cy="171.4" r="0.9" opacity="0.45"/><circle cx="158.2" cy="202.0" r="0.9" opacity="0.45"/><circle cx="450.2" cy="180.7" r="0.5" opacity="0.3"/><circle cx="316.5" cy="202.3" r="0.5" opacity="0.45"/><circle cx="273.8" cy="105.8" r="0.4" opacity="0.6"/><circle cx="209.8" cy="200.5" r="0.7" opacity="0.45"/><circle cx="389.7" cy="114.9" r="0.7" opacity="0.45"/><circle cx="218.8" cy="147.5" r="0.7" opacity="0.45"/><circle cx="277.9" cy="105.0" r="0.7" opacity="0.45"/><circle cx="365.6" cy="199.2" r="0.6" opacity="0.3"/><circle cx="420.2" cy="205.6" r="0.7" opacity="0.8"/><circle cx="377.6" cy="124.9" r="0.9" opacity="0.6"/><circle cx="372.5" cy="200.0" r="0.4" opacity="0.45"/><circle cx="404.9" cy="211.6" r="0.5" opacity="0.6"/><circle cx="347.0" cy="182.1" r="0.7" opacity="0.6"/><circle cx="403.2" cy="172.9" r="0.5" opacity="0.3"/><circle cx="319.6" cy="181.7" r="0.4" opacity="0.3"/><circle cx="367.9" cy="154.7" r="0.6" opacity="0.3"/><circle cx="302.2" cy="143.5" r="0.4" opacity="0.6"/><circle cx="385.1" cy="156.0" r="0.9" opacity="0.8"/><circle cx="424.9" cy="139.2" r="0.9" opacity="0.8"/><circle cx="204.6" cy="150.2" r="0.7" opacity="0.3"/><circle cx="222.7" cy="135.3" r="0.9" opacity="0.3"/><circle cx="391.2" cy="156.7" r="0.4" opacity="0.6"/><circle cx="181.0" cy="184.5" r="0.7" opacity="0.45"/><circle cx="250.8" cy="198.8" r="0.4" opacity="0.6"/><circle cx="345.9" cy="190.1" r="0.9" opacity="0.3"/><circle cx="387.5" cy="200.4" r="0.4" opacity="0.3"/><circle cx="302.0" cy="201.4" r="0.5" opacity="0.8"/><circle cx="245.6" cy="149.9" r="0.9" opacity="0.8"/><circle cx="328.3" cy="211.6" r="0.9" opacity="0.45"/><circle cx="423.3" cy="196.0" r="0.9" opacity="0.6"/><circle cx="174.4" cy="144.5" r="0.7" opacity="0.3"/><circle cx="201.2" cy="172.7" r="0.7" opacity="0.3"/><circle cx="456.4" cy="200.4" r="0.6" opacity="0.3"/><circle cx="294.2" cy="113.1" r="0.7" opacity="0.6"/><circle cx="162.9" cy="211.1" r="0.4" opacity="0.45"/><circle cx="426.0" cy="137.0" r="0.7" opacity="0.6"/><circle cx="310.1" cy="112.6" r="0.9" opacity="0.8"/><circle cx="279.2" cy="124.2" r="0.7" opacity="0.8"/><circle cx="190.2" cy="109.2" r="0.6" opacity="0.3"/><circle cx="246.3" cy="143.3" r="0.9" opacity="0.3"/><circle cx="206.0" cy="152.4" r="0.6" opacity="0.3"/><circle cx="326.9" cy="168.6" r="0.4" opacity="0.3"/><circle cx="436.1" cy="135.3" r="0.6" opacity="0.6"/><circle cx="285.0" cy="128.2" r="0.7" opacity="0.8"/><circle cx="243.3" cy="180.5" r="0.9" opacity="0.8"/><circle cx="411.2" cy="172.0" r="0.4" opacity="0.45"/><circle cx="264.6" cy="214.6" r="0.9" opacity="0.3"/><circle cx="186.3" cy="202.0" r="0.6" opacity="0.6"/><circle cx="442.4" cy="208.2" r="0.7" opacity="0.8"/><circle cx="415.9" cy="214.7" r="0.5" opacity="0.45"/><circle cx="382.2" cy="184.2" r="0.7" opacity="0.6"/><circle cx="237.6" cy="121.6" r="0.7" opacity="0.3"/><circle cx="439.0" cy="147.4" r="0.6" opacity="0.45"/><circle cx="342.8" cy="151.4" r="0.9" opacity="0.8"/><circle cx="188.5" cy="144.7" r="0.5" opacity="0.45"/><circle cx="355.0" cy="129.5" r="0.7" opacity="0.3"/><circle cx="429.5" cy="190.0" r="0.6" opacity="0.3"/><circle cx="256.3" cy="171.1" r="0.5" opacity="0.3"/><circle cx="166.0" cy="158.4" r="0.6" opacity="0.8"/><circle cx="314.0" cy="107.2" r="0.5" opacity="0.6"/><circle cx="394.7" cy="127.0" r="0.7" opacity="0.3"/><circle cx="162.0" cy="115.8" r="0.5" opacity="0.3"/><circle cx="455.2" cy="137.2" r="0.5" opacity="0.3"/><circle cx="347.4" cy="189.3" r="0.9" opacity="0.6"/><circle cx="393.1" cy="130.8" r="0.5" opacity="0.6"/><circle cx="246.3" cy="146.2" r="0.5" opacity="0.8"/><circle cx="410.2" cy="188.7" r="0.7" opacity="0.45"/><circle cx="414.1" cy="184.4" r="0.9" opacity="0.45"/><circle cx="270.1" cy="166.8" r="0.6" opacity="0.8"/><circle cx="163.2" cy="131.4" r="0.7" opacity="0.45"/><circle cx="189.0" cy="111.1" r="0.5" opacity="0.6"/><circle cx="265.4" cy="210.2" r="0.7" opacity="0.3"/><circle cx="409.8" cy="186.1" r="0.9" opacity="0.6"/><circle cx="312.7" cy="141.9" r="0.6" opacity="0.45"/><circle cx="415.4" cy="191.3" r="0.6" opacity="0.8"/><circle cx="198.1" cy="103.0" r="0.9" opacity="0.45"/><circle cx="222.2" cy="102.6" r="0.6" opacity="0.3"/><circle cx="222.4" cy="125.2" r="0.9" opacity="0.45"/><circle cx="238.8" cy="184.6" r="0.5" opacity="0.45"/><circle cx="188.6" cy="168.9" r="0.9" opacity="0.8"/><circle cx="220.3" cy="151.6" r="0.6" opacity="0.6"/><circle cx="176.4" cy="123.1" r="0.7" opacity="0.3"/><circle cx="360.3" cy="174.3" r="0.9" opacity="0.8"/><circle cx="443.0" cy="214.1" r="0.4" opacity="0.6"/><circle cx="156.2" cy="120.7" r="0.5" opacity="0.6"/></g><path d="M246,255.6 q-1.5,2.8 0,4.2 q1.5,-1.4 0,-4.2z" fill="#a5d5ee" stroke="#5b7d95" stroke-width="0.4"/><path d="M334,267.4 q-1.5,2.8 0,4.2 q1.5,-1.4 0,-4.2z" fill="#a5d5ee" stroke="#5b7d95" stroke-width="0.4"/><path d="M373.5,268.6 q-1.5,2.8 0,4.2 q1.5,-1.4 0,-4.2z" fill="#a5d5ee" stroke="#5b7d95" stroke-width="0.4"/><path d="M334.5,286.1 q-1.5,2.8 0,4.2 q1.5,-1.4 0,-4.2z" fill="#a5d5ee" stroke="#5b7d95" stroke-width="0.4"/><path d="M431,263.1 q-1.5,2.8 0,4.2 q1.5,-1.4 0,-4.2z" fill="#a5d5ee" stroke="#5b7d95" stroke-width="0.4"/><path d="M418.4,235.9 q-1.5,2.8 0,4.2 q1.5,-1.4 0,-4.2z" fill="#a5d5ee" stroke="#5b7d95" stroke-width="0.4"/><path d="M437.5,316.2 q-1.5,2.8 0,4.2 q1.5,-1.4 0,-4.2z" fill="#a5d5ee" stroke="#5b7d95" stroke-width="0.4"/><path d="M428.8,332.4 q-1.5,2.8 0,4.2 q1.5,-1.4 0,-4.2z" fill="#a5d5ee" stroke="#5b7d95" stroke-width="0.4"/><path d="M166.5,317.6 q-1.5,2.8 0,4.2 q1.5,-1.4 0,-4.2z" fill="#a5d5ee" stroke="#5b7d95" stroke-width="0.4"/><path d="M341.4,358.9 q-1.5,2.8 0,4.2 q1.5,-1.4 0,-4.2z" fill="#a5d5ee" stroke="#5b7d95" stroke-width="0.4"/><path d="M263,249.6 q-1.5,2.8 0,4.2 q1.5,-1.4 0,-4.2z" fill="#a5d5ee" stroke="#5b7d95" stroke-width="0.4"/><path d="M364,257.1 q-1.5,2.8 0,4.2 q1.5,-1.4 0,-4.2z" fill="#a5d5ee" stroke="#5b7d95" stroke-width="0.4"/><path d="M277.8,406.2 q-1.5,2.8 0,4.2 q1.5,-1.4 0,-4.2z" fill="#a5d5ee" stroke="#5b7d95" stroke-width="0.4"/><path d="M316.5,418.6 q-1.5,2.8 0,4.2 q1.5,-1.4 0,-4.2z" fill="#a5d5ee" stroke="#5b7d95" stroke-width="0.4"/><path d="M456,400.1 q-1.5,2.8 0,4.2 q1.5,-1.4 0,-4.2z" fill="#a5d5ee" stroke="#5b7d95" stroke-width="0.4"/><path d="M160,398.6 q-1.5,2.8 0,4.2 q1.5,-1.4 0,-4.2z" fill="#a5d5ee" stroke="#5b7d95" stroke-width="0.4"/><g fill="#3b50e6">
<path d="M471.2,149.9 L493.8,127.6 L493.8,144 L579.2,144 L579.2,155.7 L493.8,155.7 L493.8,172.2 Z"/>
<path d="M471.2,462.5 L493.8,440.3 L493.8,456.7 L579.2,456.7 L579.2,468.3 L493.8,468.3 L493.8,484.7 Z"/>
</g>
<path d="M514.6,197.9 L519,197.9 C531,197.9 537.8,206 537.8,219 L537.8,291.3 L551.3,305.9 L537.8,320.5 L537.8,393 C537.8,406.3 531,414.4 519,414.4 L514.6,414.4" fill="none" stroke="#3b50e6" stroke-width="12" stroke-linecap="round" stroke-linejoin="round"/>

</svg>
<div class="w ti" style="left:291.70px;top:23.20px;transform:scaleX(1.0849)">The</div>
<div class="w ti" style="left:359.38px;top:23.20px;transform:scaleX(1.1225)">Feedback</div>
<div class="w ti" style="left:526.40px;top:23.20px;transform:scaleX(1.1201)">Sandwich</div>
<div class="w la" style="left:595.30px;top:129.92px;transform:scaleX(0.9935)">The</div>
<div class="w la" style="left:631.90px;top:129.92px;transform:scaleX(1.0767)">first</div>
<div class="w la" style="left:668.62px;top:129.92px;transform:scaleX(1.0820)">positive</div>
<div class="w la" style="left:739.77px;top:129.92px;transform:scaleX(1.1320)">comment</div>
<div class="w la" style="left:595.30px;top:282.62px;transform:scaleX(0.9935)">The</div>
<div class="w la" style="left:630.50px;top:282.62px;transform:scaleX(1.1000)">constructive</div>
<div class="w la" style="left:743.40px;top:282.62px;transform:scaleX(1.0773)">feedback</div>
<div class="w la" style="left:595.30px;top:428.42px;transform:scaleX(0.9935)">The</div>
<div class="w la" style="left:630.48px;top:428.42px;transform:scaleX(1.1164)">closing</div>
<div class="w la" style="left:697.48px;top:428.42px;transform:scaleX(1.1162)">statement</div>
<div class="w la" style="left:594.16px;top:451.92px;transform:scaleX(1.1369)">reaffirming</div>
<div class="w la" style="left:696.30px;top:451.92px;transform:scaleX(1.1120)">the</div>
<div class="w la" style="left:728.50px;top:451.92px;transform:scaleX(1.0951)">positive</div>
<div class="w la" style="left:594.17px;top:475.52px;transform:scaleX(1.1338)">commentt</div>

</body></html>
